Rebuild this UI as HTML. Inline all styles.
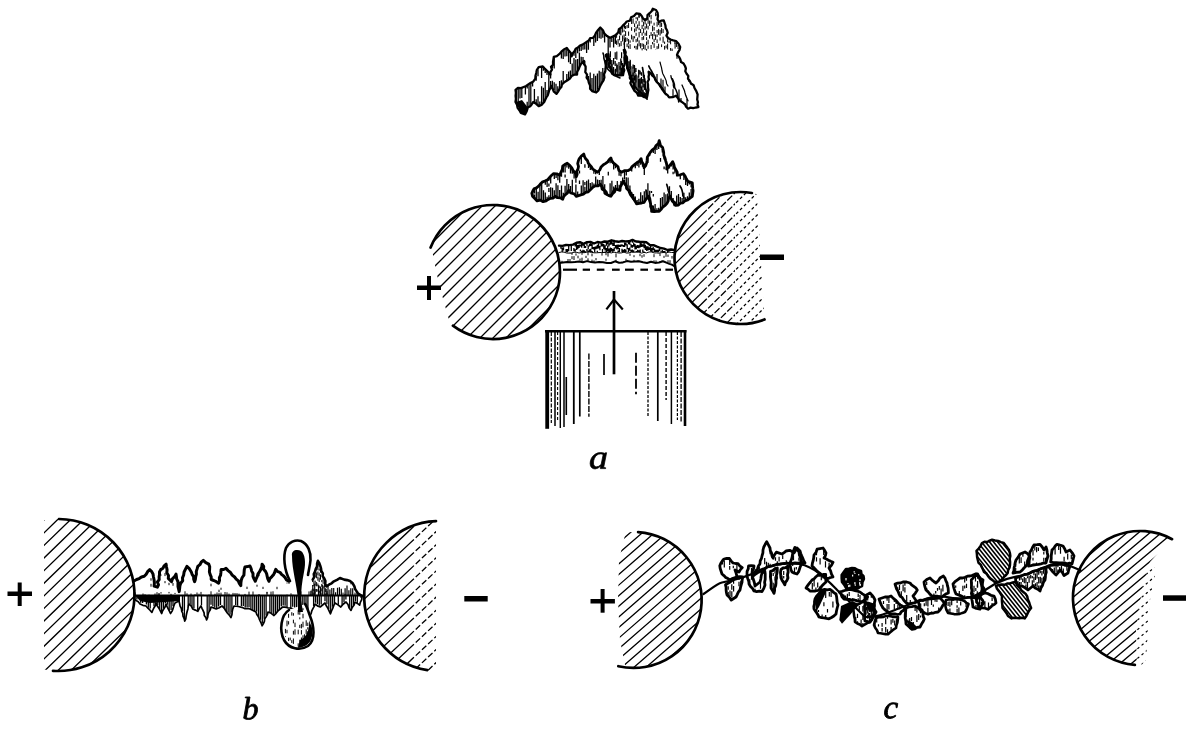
<!DOCTYPE html>
<html><head><meta charset="utf-8"><title>Figure</title>
<style>html,body{margin:0;padding:0;background:#fff;width:1194px;height:731px;overflow:hidden;font-family:"Liberation Serif",serif;}svg{display:block}</style>
</head><body><svg width="1194" height="731" viewBox="0 0 1194 731"><defs><clipPath id="c1"><circle cx="493" cy="272" r="67"/></clipPath><clipPath id="c2"><polygon points="420,195 431,245 437,275 442,295 449,320 470,350 600,350 600,195"/></clipPath><clipPath id="c3"><circle cx="740.5" cy="258" r="66"/></clipPath><clipPath id="c4"><rect x="600" y="180" width="105" height="150"/></clipPath><clipPath id="c5"><circle cx="740.5" cy="258" r="66"/></clipPath><clipPath id="c6"><rect x="705" y="180" width="30" height="150"/></clipPath><clipPath id="c7"><circle cx="740.5" cy="258" r="66"/></clipPath><clipPath id="c8"><polygon points="735,180 756,180 765,330 735,330"/></clipPath><clipPath id="c9"><polygon points="515.5,89.8 523.7,87 530.5,82.9 535.3,78.8 538.7,67.2 542.8,66.5 550.4,74.7 553.8,56.9 559.2,54.2 566.8,48 571.6,56.3 575.7,48.7 582.5,44.6 586.6,41.9 594.8,35.7 600.3,27.5 604.4,33.7 610,37.8 614.4,35.9 624.7,23.9 634,16 636.2,13.4 640,14 645,20 652.8,8.7 656,10 659,22 663.8,20.5 668,38 676,41 680.2,47 677,55 685,66 688,78.7 694.5,88 697.6,94.5 698.4,107 688,108.7 682.8,102.6 676,95.7 669.1,97.4 658.8,83.8 648.6,71.8 646.9,97.4 638.3,95.7 631.5,85.5 624.7,49.6 623,75.2 614.4,75.2 609.3,66.7 608.5,54.2 605.8,65.1 604.4,77.5 596.2,92.5 592.1,91.1 586.6,77.5 583.9,61 581.1,63.8 577,74.7 571.6,76.1 567.5,80.2 562,84.3 556.5,93.9 551,85.7 544.2,102 538.7,106.2 533.3,102 527.8,107.6 525,114.4 520.9,113 515.5,102"/></clipPath><clipPath id="c10"><polygon points="515.5,89.8 523.7,87 530.5,82.9 535.3,78.8 538.7,67.2 542.8,66.5 550.4,74.7 553.8,56.9 559.2,54.2 566.8,48 571.6,56.3 575.7,48.7 582.5,44.6 586.6,41.9 594.8,35.7 600.3,27.5 604.4,33.7 610,37.8 614.4,35.9 624.7,23.9 634,16 636.2,13.4 640,14 645,20 652.8,8.7 656,10 659,22 663.8,20.5 668,38 676,41 680.2,47 677,55 685,66 688,78.7 694.5,88 697.6,94.5 698.4,107 688,108.7 682.8,102.6 676,95.7 669.1,97.4 658.8,83.8 648.6,71.8 646.9,97.4 638.3,95.7 631.5,85.5 624.7,49.6 623,75.2 614.4,75.2 609.3,66.7 608.5,54.2 605.8,65.1 604.4,77.5 596.2,92.5 592.1,91.1 586.6,77.5 583.9,61 581.1,63.8 577,74.7 571.6,76.1 567.5,80.2 562,84.3 556.5,93.9 551,85.7 544.2,102 538.7,106.2 533.3,102 527.8,107.6 525,114.4 520.9,113 515.5,102"/></clipPath><clipPath id="c11"><polygon points="624,50 632,62 645,75 648,99 638,96 630,84"/></clipPath><clipPath id="c12"><polygon points="600,52 612,50 623,52 622,75 614,76 605,66"/></clipPath><clipPath id="c13"><polygon points="614.4,35.9 624.7,23.9 634,16 636.2,13.4 640,14 645,20 652.8,8.7 656,10 659,22 663.8,20.5 668,38 676,41 680.2,47 677,52 660,49 645,51 630,49 615,46"/></clipPath><clipPath id="c14"><polygon points="531.8,193.3 534,188.8 540.1,184.3 547.6,179.8 553.6,173.7 559.7,175.2 562.7,166.2 567.2,163.2 573.2,170.7 576.3,176.7 579.3,158.6 583.8,154.1 588.3,163.2 592.8,169.2 597.4,172.2 603.4,164.7 610.9,157.9 615.5,164.7 621.5,172.2 630.5,169.2 641.1,158.6 644.1,167.7 650.1,152.6 654.7,148.1 659.2,140.6 663.7,152.6 666.7,169.2 672.7,161.7 677.3,175.2 683.3,173.7 687.8,181.3 692.3,182.8 692.3,196.3 684.8,200.9 675.8,205.4 669.7,196.3 665.2,205.4 659.2,211.4 651.6,211.4 648.6,196.3 644.1,202.4 636.6,203.9 630.5,193.3 623,181.3 620,190.3 615.5,188.8 610.9,196.3 604.9,193.3 600.4,184.3 592.8,187.3 588.3,191.8 580.8,194.8 576.3,196.3 568.7,190.3 562.7,199.3 555.2,196.3 546.1,200.9 537.1,200.9 532.5,196.3"/></clipPath><clipPath id="c15"><polygon points="559,245.6 562.5,245.9 566,245 569.5,245.1 573,244.6 576.5,242.8 580,242.2 583.5,243.8 587,242.1 590.5,241.9 594,243.5 597.5,242 601,242.6 604.5,241.5 608,241.7 611.5,240.3 615,241.2 618.5,241.8 622,241 625.5,241.5 629,241.3 632.5,239.9 636,241.5 639.5,241.8 643,242 646.5,242.3 650,245.2 653.5,245.2 657,246.7 660.5,248 664,248.6 667.5,250 671,249.5 674,250 674,252.5 559,252.5"/></clipPath><clipPath id="c16"><polygon points="559,252 674,252 674,266 667,262.9 663,261.3 659,262.5 655,262.9 651,261.7 647,263 643,262.2 639,261.2 635,261.5 631,261.8 627,261.1 623,262.4 619,262.7 615,261.3 611,263 607,263.1 603,262.2 599,262 595,262.4 591,262.1 587,261.1 583,262.2 579,261.4 575,262 571,262.2 567,262.1 563,262.5 559,263"/></clipPath><clipPath id="c17"><circle cx="59" cy="595" r="76"/></clipPath><clipPath id="c18"><rect x="44" y="500" width="120" height="200"/></clipPath><clipPath id="c19"><circle cx="439" cy="596" r="75"/></clipPath><clipPath id="c20"><rect x="340" y="500" width="70" height="200"/></clipPath><clipPath id="c21"><circle cx="439" cy="596" r="75"/></clipPath><clipPath id="c22"><rect x="410" y="500" width="26" height="200"/></clipPath><clipPath id="c23"><polygon points="134,596 134,581 136.6,579.5 144.2,576.3 149.7,569.7 153,574 154.1,586.1 157.4,587.2 159.5,571.9 166.1,564.2 168.3,578.4 171.6,581.7 176,574.1 179.2,591.6 183.6,575.2 186.9,566.4 191.3,571.9 194.6,581.7 197.8,566.4 203.3,560.4 208.8,564.2 211.2,579.5 218.6,583.2 221.1,569.6 226,568.4 234.6,577 240.8,585.6 245,567 250,566 255.3,581.3 262.1,564.2 269,581.3 275.8,569.3 288.8,581.3 300,585 312.7,579.6 317.9,560.8 326.4,586.4 333.9,581.3 340,578 344.2,579.6 350,581 354.4,586.4 357.9,593.3 362,596 362,596"/></clipPath><clipPath id="c24"><polygon points="312,581 317.9,560.8 326.4,586.4 330,595 312,595"/></clipPath><clipPath id="c25"><polygon points="310,595 312.7,579.6 326.4,586.4 333.9,581.3 340,578 344.2,579.6 350,581 354.4,586.4 357.9,593.3 362,596"/></clipPath><clipPath id="c26"><polygon points="286,612 306,606 312,625 312,640 300,648 286,640 283,625"/></clipPath><clipPath id="c27"><circle cx="634" cy="600" r="68"/></clipPath><clipPath id="c28"><polygon points="628,520 625,535 619,560 618,600 620,640 626,670 720,670 720,520"/></clipPath><clipPath id="c29"><circle cx="1140" cy="598" r="67"/></clipPath><clipPath id="c30"><polygon points="1000,500 1180,520 1170,540 1150,562 1143,585 1139,608 1136,631 1137,670 1000,700"/></clipPath><clipPath id="c31"><circle cx="1140" cy="598" r="67"/></clipPath><clipPath id="c32"><polygon points="1150,562 1143,585 1139,608 1136,631 1137,670 1146,660 1150,600 1156,570"/></clipPath><clipPath id="c33"><polygon points="719.8,565.7 724,559 729.4,558.5 733,563 738,563.7 742.3,567.6 739,572 735,570 737,577 730,580 722,574"/></clipPath><clipPath id="c34"><polygon points="725.5,584.8 737,577 742.8,577 740,590 736,597 731.3,600.1 727,595"/></clipPath><clipPath id="c35"><polygon points="748.5,566 754,566 752,575 755,586 760,582 762,573 764.8,571 765,585 762,591.5 754,591 749,584 747,574"/></clipPath><clipPath id="c36"><polygon points="753,576 760,563.7 763,550 766.7,541.7 770,548 773,558 776.3,552.2 782,554 786,551 789.7,550.3 794,553 797,548 800,551 805,563 795,562.8 780,564 767,567"/></clipPath><clipPath id="c37"><polygon points="770.5,571.4 777.3,568 776,583 774,593.4 771,588"/></clipPath><clipPath id="c38"><polygon points="781,569.5 787.8,566 788,578 784.8,584.8 781,578"/></clipPath><clipPath id="c39"><polygon points="790,564.6 793,552 794.9,547.4 799,552 802,564 797,574 792,572"/></clipPath><clipPath id="c40"><polygon points="812,566 814,555 817.1,549.2 823,548 826,553 824,558 833.1,562.2 829,568 833,577 827,579 818,572"/></clipPath><clipPath id="c41"><polygon points="806,588 812,580 818,575 825.7,574.5 826,582 818,590.5 810,591"/></clipPath><clipPath id="c42"><polygon points="822,590 830,589.3 836,594 838,605 836,614 829,618.8 819,617 814,609 815,599"/></clipPath><clipPath id="c43"><polygon points="839.3,592 850,589.3 860,592 867.6,597 862,601.6 852,600 844,599"/></clipPath><clipPath id="c44"><polygon points="853,608 862,602 871.3,604 876.2,612 870,622 862,626.2 855,622"/></clipPath><clipPath id="c45"><polygon points="865,596 870,593 875,600 874,612 870,622 865,621"/></clipPath><clipPath id="c46"><polygon points="879,599 885,597 891,596 898,603 905,608 900,614 890,614 883,608"/></clipPath><clipPath id="c47"><polygon points="876,618 886,616 898,617 896,628 888,634.3 878,633 874,625"/></clipPath><clipPath id="c48"><polygon points="895,584 903,582 910,583 917.3,590 913,596 917,602 908,604 900,596"/></clipPath><clipPath id="c49"><polygon points="906,608 915,606 922,610 924.3,619 920,627 912,629.3 906,624 905.2,615"/></clipPath><clipPath id="c50"><polygon points="918,601 928,599 940,598 944.4,603 938,612 928,614.2 920,610"/></clipPath><clipPath id="c51"><polygon points="924,582 930,578 936,583 940,578 943.4,576 947,583 948.4,593 942,597 932,596 926,590"/></clipPath><clipPath id="c52"><polygon points="946,600 956,599 962,600 968.5,604 965,612 957,614.2 948,613 945.4,606"/></clipPath><clipPath id="c53"><polygon points="953,584 960,578 970,576 977.6,574 981,583 985,591 978,597 965,598 956,594"/></clipPath><clipPath id="c54"><polygon points="971.5,598 980,596 983.6,603 980,609.2 973,607"/></clipPath><clipPath id="c55"><polygon points="971.3,580 976,574 983,580 982,592 977,599 972,596"/></clipPath><clipPath id="c56"><polygon points="975,597 985,593 994,596 996,603 988,609.3 979,607"/></clipPath><clipPath id="c57"><polygon points="994.7,582 984,572 977.8,560 976.5,550.8 982,543 992.1,539.8 1003.8,543 1009,550 1010.3,556 1010,565 1007.7,573 998.6,582"/></clipPath><clipPath id="c58"><polygon points="996,586 1002,596 1002.5,608 1008,616 1011.6,618.4 1024.6,618.4 1031.1,608 1027.2,596.3 1020,588 1015.5,582"/></clipPath><clipPath id="c59"><polygon points="1013,573 1016,560 1020,554 1025,552 1029.8,556 1026,566 1020,572"/></clipPath><clipPath id="c60"><polygon points="1028.5,566 1030,552 1034,545 1040,544.3 1044,550 1046,547 1048,556 1046,563"/></clipPath><clipPath id="c61"><polygon points="1050.6,562 1052,550 1057,544.3 1063,546 1066,552 1070,550 1074,556 1072,563.8 1062,563"/></clipPath><clipPath id="c62"><polygon points="1015.5,578 1030,573 1046.7,567 1045,580 1040,591 1033,586 1028,590 1022,586 1017,585"/></clipPath><clipPath id="c63"><polygon points="1048,566 1060,563.8 1070,566 1068,573 1064,575.5 1060,570 1056,575 1052,571"/></clipPath></defs><rect width="1194" height="731" fill="#fff"/><g clip-path="url(#c2)"><g clip-path="url(#c1)"><path d="M420 177L565 32M420 190L565 45M420 203L565 58M420 216L565 71M420 229L565 84M420 242L565 97M420 255L565 110M420 268L565 123M420 281L565 136M420 294L565 149M420 307L565 162M420 320L565 175M420 333L565 188M420 346L565 201M420 359L565 214M420 372L565 227M420 385L565 240M420 398L565 253M420 411L565 266M420 424L565 279M420 437L565 292M420 450L565 305M420 463L565 318M420 476L565 331M420 489L565 344M420 502L565 357" stroke="#000" stroke-width="1.3" fill="none"/></g></g><path d="M430.6 247.6A67 67 0 1 1 452.9 325.7" stroke="#000" stroke-width="2.7" fill="none" stroke-linecap="round"/><rect x="417" y="285.5" width="24" height="4.5" fill="#000"/><rect x="427" y="276" width="4" height="24" fill="#000"/><g clip-path="url(#c4)"><g clip-path="url(#c3)"><path d="M670 169L770 69M670 180.1L770 80.1M670 191.2L770 91.2M670 202.3L770 102.3M670 213.4L770 113.4M670 224.5L770 124.5M670 235.6L770 135.6M670 246.7L770 146.7M670 257.8L770 157.8M670 268.9L770 168.9M670 280L770 180M670 291.1L770 191.1M670 302.2L770 202.2M670 313.3L770 213.3M670 324.4L770 224.4M670 335.5L770 235.5M670 346.6L770 246.6M670 357.7L770 257.7M670 368.8L770 268.8M670 379.9L770 279.9M670 391L770 291M670 402.1L770 302.1M670 413.2L770 313.2M670 424.3L770 324.3M670 435.4L770 335.4" stroke="#000" stroke-width="1.25" fill="none"/></g></g><g clip-path="url(#c6)"><g clip-path="url(#c5)"><path d="M670 169L770 69M670 180.1L770 80.1M670 191.2L770 91.2M670 202.3L770 102.3M670 213.4L770 113.4M670 224.5L770 124.5M670 235.6L770 135.6M670 246.7L770 146.7M670 257.8L770 157.8M670 268.9L770 168.9M670 280L770 180M670 291.1L770 191.1M670 302.2L770 202.2M670 313.3L770 213.3M670 324.4L770 224.4M670 335.5L770 235.5M670 346.6L770 246.6M670 357.7L770 257.7M670 368.8L770 268.8M670 379.9L770 279.9M670 391L770 291M670 402.1L770 302.1M670 413.2L770 313.2M670 424.3L770 324.3M670 435.4L770 335.4" stroke="#000" stroke-width="1.25" fill="none" stroke-dasharray="7 2"/></g></g><g clip-path="url(#c8)"><g clip-path="url(#c7)"><path d="M670 169L770 69M670 180.1L770 80.1M670 191.2L770 91.2M670 202.3L770 102.3M670 213.4L770 113.4M670 224.5L770 124.5M670 235.6L770 135.6M670 246.7L770 146.7M670 257.8L770 157.8M670 268.9L770 168.9M670 280L770 180M670 291.1L770 191.1M670 302.2L770 202.2M670 313.3L770 213.3M670 324.4L770 224.4M670 335.5L770 235.5M670 346.6L770 246.6M670 357.7L770 257.7M670 368.8L770 268.8M670 379.9L770 279.9M670 391L770 291M670 402.1L770 302.1M670 413.2L770 313.2M670 424.3L770 324.3M670 435.4L770 335.4" stroke="#000" stroke-width="1.25" fill="none" stroke-dasharray="3 2.5"/></g></g><path d="M751.9 193A66 66 0 1 0 764.5 319.5" stroke="#000" stroke-width="2.7" fill="none" stroke-linecap="round"/><rect x="760" y="254.5" width="24" height="5.5" fill="#000"/><path clip-path="url(#c9)" d="M516.4 89.5l0 8M516.4 103.8l-0 -10.5M518.2 88.9l0 8.3M518.2 107.5l-0 -11.2M520 88.3l0 10.1M520 111.2l-0 -8.2M521.8 87.6l0 10.3M521.8 113.3l-0 -4.6M525.4 86l0 8.5M525.4 113.4l-0 -4.2M527.2 84.9l0 3.5M527.2 109.1l-0 -7.4M529 83.8l0 7.2M529 106.4l-0 -15.8M530.8 82.6l0 8.8M530.8 104.5l-0 -13.3M532.6 81.1l0 5.5M534.4 102.9l-0 -13.9M536.2 75.7l0 5.1M536.2 104.3l-0 -5M538 69.6l0 6.6M538 105.7l-0 -9.4M539.8 105.4l-0 -4M541.6 66.7l0 11.2M541.6 104l-0 -17.7M543.4 67.1l0 3.7M543.4 102.6l-0 -14.9M545.2 69.1l0 3.8M545.2 99.6l-0 -17.5M547 71l0 4.1M547 95.3l-0 -5.4M548.8 73l0 10.2M548.8 91l-0 -11.8M550.6 73.7l0 4.7M550.6 86.7l-0 -5.8M552.4 64.2l0 4M552.4 87.8l-0 -7M554.2 56.7l0 11.7M554.2 90.5l-0 -8.3M556 93.2l-0 -9.5M557.8 91.6l-0 -5.4M559.6 88.5l-0 -7.6M561.4 52.4l0 6M561.4 85.3l-0 -5M563.2 50.9l0 8.2M563.2 83.4l-0 -12.4M565 49.5l0 7.1M566.8 48l0 8.2M566.8 80.7l-0 -6.6M568.6 51.1l0 11.2M568.6 79.1l-0 -7.5M570.4 54.2l0 9.7M570.4 77.3l-0 -6.8M572.2 75.9l-0 -12.4M574 51.9l0 3.9M574 75.5l-0 -17.5M575.8 48.6l0 9.3M575.8 75l-0 -15.5M577.6 47.6l0 5.6M577.6 73.1l-0 -14.1M579.4 46.5l0 5.1M579.4 68.3l-0 -15.9M581.2 45.4l0 5.5M581.2 63.7l-0 -6.9M583 44.3l0 5.4M583 61.9l-0 -4.8M584.8 43.1l0 6.3M584.8 66.5l-0 -5.8M586.6 41.9l0 11M588.4 40.5l0 9.2M588.4 82l-0 -6M590.2 39.2l0 3.2M590.2 86.4l-0 -13.8M592 90.9l-0 -12.9M593.8 36.5l0 9.6M593.8 91.7l-0 -18M595.6 34.5l0 7.9M595.6 92.3l-0 -16.6M597.4 31.8l0 9.3M597.4 90.3l-0 -16.8M599.2 29.1l0 9.2M599.2 87l-0 -16.2M601 28.6l0 10.1M601 83.7l-0 -12M602.8 31.3l0 6.4M602.8 80.4l-0 -12.5M604.6 33.8l0 8.8M606.4 62.7l-0 -9.4M608.2 36.5l0 8.2M608.2 55.4l-0 -15.7M610 37.8l0 9.8M610 67.9l-0 -12.4M611.8 37l0 5.1M611.8 70.9l-0 -11M613.6 36.2l0 11.3M613.6 73.9l-0 -4.2M615.4 34.7l0 9.1M615.4 75.2l-0 -6.4M617.2 75.2l-0 -10.2M619 75.2l-0 -13.3M620.8 28.4l0 6.9M620.8 75.2l-0 -16.8M622.6 75.2l-0 -12.2M624.4 24.2l0 4.2M624.4 54.1l-0 -15.7" stroke="#000" stroke-width="1.3" fill="none"/><path clip-path="url(#c10)" d="M629 72.3l-0 -3.4M631 82.9l-0 -3.7M635 90.8l-0 -8.7M637 93.8l-0 -2.6M639 13.8l0 3.6M639 95.8l-0 -7.7M641 96.2l-0 -8.3M643 17.6l0 1.4M643 96.6l-0 -2.2M645 97l-0 -3.1M647 17.1l0 2.9M647 95.9l-0 -7M653 8.8l0 2.4M653 77l-0 -2.1M657 14l0 1.8M657 81.7l-0 -7.6M661 86.7l-0 -8.3M663 89.3l-0 -9.5M665 92l-0 -5.6M673 96.4l-0 -7.2M675 40.6l0 3.2M677 55l0 3.7M679 98.7l-0 -9.3M681 100.8l-0 -2.7M685 105.2l-0 -2.2M687 107.5l-0 -8.4M689 80.1l0 2M691 83l0 1.4" stroke="#000" stroke-width="1.2" fill="none"/><path clip-path="url(#c11)" d="M624.7 51.4l0 2.6M626.1 56.1l0 5.8M627.5 57.5l0 5.2M627.5 66.2l0 3.6M628.9 61.2l0 6.7M628.9 69.5l0 6.8M630.3 59.6l0 9.8M630.3 71.5l0 8.6M630.3 82.6l0 1.8M631.7 74.7l0 6.3M633.1 64.4l0 4.3M633.1 72.5l0 3.9M633.1 77.5l0 4.4M633.1 84.9l0 3.8M634.5 64.9l0 8.1M634.5 75.6l0 4.8M634.5 82.9l0 6.1M635.9 68l0 4.1M635.9 75l0 7.5M638.7 69.7l0 8.1M638.7 79l0 8.8M638.7 91.2l0 3.9M640.1 70.2l0 4.4M640.1 78.3l0 9.8M640.1 90.6l0 6M641.5 72.3l0 3.5M641.5 76.9l0 6.9M641.5 86.4l0 4M642.9 79.1l0 8.4M642.9 89.9l0 6.6M644.3 74.4l0 7.9M644.3 83.8l0 6.2M644.3 92.2l0 4.4M645.7 80.7l0 9.3M645.7 93l0 5.3" stroke="#000" stroke-width="1.3" fill="none"/><path clip-path="url(#c12)" d="M605.6 54l0 3.5M605.6 59.9l0 3.1M605.6 65.8l0 0.8M607.2 53.5l0 5.4M607.2 61.5l0 6.7M608.8 65l0 3.2M610.4 51.3l0 5.8M610.4 58.7l0 5.6M610.4 66.1l0 5.9M612 63.8l0 8.7M613.6 58.1l0 6.3M613.6 66.9l0 7.3M615.2 52.3l0 6.7M615.2 61l0 5M615.2 75.6l0 0.2M616.8 51.5l0 8.3M616.8 63.5l0 8.2M620 66l0 3.8M620 72.2l0 3.1M621.6 52.2l0 6.1M621.6 60.7l0 4.8M621.6 67.8l0 7.2" stroke="#000" stroke-width="1.2" fill="none"/><path clip-path="url(#c13)" d="M615.1 38.8l0 4.9M616.6 34.7l0 3.1M616.6 40.5l0 4.4M618.1 39l0 5.5M618.1 45.7l0 0.9M619.6 30.2l0 4.2M619.6 35.6l0 4.7M619.6 43.2l0 3.5M621.1 41l0 5.1M622.6 27.3l0 5.2M622.6 35.5l0 6M624.1 29.6l0 2.3M624.1 34.4l0 4.7M624.1 42.5l0 2.3M624.1 47.8l0 0M625.6 25.9l0 3.1M625.6 31.1l0 4.9M625.6 37.3l0 4.8M627.1 25l0 3.2M627.1 37.9l0 3.4M627.1 43.5l0 3.6M628.6 22.8l0 5.2M628.6 31.5l0 4.3M628.6 39l0 5.5M628.6 45.6l0 3.1M630.1 40.4l0 2.3M630.1 44.2l0 4.9M631.6 18.9l0 5.1M631.6 27.2l0 3.6M631.6 34.7l0 4.7M633.1 18.4l0 5.3M633.1 36.1l0 5.8M634.6 23.5l0 3.5M634.6 28.6l0 3.7M634.6 36.2l0 2.2M634.6 45.9l0 2.2M636.1 17.1l0 2.1M636.1 20.8l0 2.9M636.1 26.8l0 4.4M636.1 32.8l0 3.1M636.1 39.1l0 3.2M636.1 45.8l0 3.9M637.6 17.3l0 3.4M637.6 24.5l0 3.9M637.6 37.5l0 4.1M637.6 43.5l0 6M639.1 13.9l0 3.9M639.1 21.2l0 4.9M639.1 27.5l0 2.6M639.1 31.9l0 5.5M639.1 40.3l0 6M640.6 29.1l0 3.9M640.6 43.1l0 5.2M642.1 16.9l0 5.3M642.1 24.9l0 4.1M642.1 32.5l0 3.2M642.1 37l0 3.2M642.1 43.3l0 3.4M642.1 48.1l0 2.5M643.6 21.7l0 4.6M643.6 28.4l0 4.8M643.6 36l0 3.8M643.6 43.8l0 5.2M645.1 20.9l0 3.5M645.1 26.3l0 3.3M645.1 32.7l0 3M645.1 44.9l0 4.9M646.6 18l0 2.6M646.6 23.6l0 4.8M646.6 30.6l0 5.3M646.6 37.2l0 2.9M646.6 41.5l0 3.6M646.6 48.9l0 1.9M648.1 18.5l0 5.3M648.1 25.8l0 3.6M648.1 39.8l0 4.6M648.1 45.5l0 3.3M649.6 13.7l0 3.5M649.6 20.6l0 5.3M649.6 35.1l0 3.4M651.1 14.9l0 4.5M651.1 20.6l0 3M651.1 32.1l0 3.9M651.1 45l0 4.2M652.6 25.7l0 5.6M652.6 34l0 5.3M652.6 42l0 2.3M654.1 22.7l0 2.8M654.1 27l0 3.5M654.1 32l0 4.1M654.1 38.8l0 3.3M654.1 43.2l0 4.7M655.6 12.3l0 3.9M655.6 34.5l0 5.4M655.6 49l0 0.5M657.1 21.8l0 4.9M657.1 30l0 3.2M657.1 34.4l0 2.5M657.1 39.4l0 3.6M657.1 46.1l0 3.3M658.6 22.2l0 2.9M658.6 28.9l0 5.9M658.6 43.7l0 5M660.1 22l0 5.2M660.1 29.8l0 5.8M660.1 37.4l0 3.2M661.6 22.6l0 4.3M661.6 28l0 5.6M661.6 44.3l0 2.8M663.1 29.1l0 3.9M663.1 36.7l0 6M664.6 41.6l0 2.3M664.6 45.9l0 3.9M666.1 45.4l0 2.9M667.6 39.2l0 3.1M667.6 43.6l0 5.9M669.1 40.6l0 2.2M670.6 40.1l0 4.2M670.6 48l0 2.9M672.1 48.6l0 2.5M675.1 42.8l0 5.8M676.6 42.6l0 4.4M678.1 45l0 4" stroke="#000" stroke-width="1.0" fill="none"/><polygon points="516,102 520.9,113 525,114.4 527.8,107.6 522,100" fill="#000"/><polygon points="515.5,89.8 517.9,88 521,88.1 523.7,87 526.2,86 528.3,84.4 530.5,82.9 533.4,81.4 535.3,78.8 535.5,75.7 536.3,72.8 536.9,69.8 538.7,67.2 542.8,66.5 544.7,68.5 546.7,70.5 548.6,72.6 550.4,74.7 550.4,72.1 552,69.7 551,66.9 553.1,64.7 553,62 553.4,59.5 553.8,56.9 556.8,56.1 559.2,54.2 561.4,51.7 563.8,49.5 566.8,48 568.7,50.6 570.8,53.1 571.6,56.3 572.6,53.6 574.5,51.3 575.7,48.7 578,47.4 580,45.6 582.5,44.6 586.6,41.9 588.8,40.5 590.2,38.1 593.1,37.8 594.8,35.7 596.1,32.6 598.1,30 600.3,27.5 602.9,30.2 604.4,33.7 607,36.1 610,37.8 614.4,35.9 616.6,34.3 618.3,32.3 618.9,29.3 621.1,27.8 622.8,25.7 624.7,23.9 626.7,21.5 630,20.7 631.1,17.3 634,16 636.2,13.4 640,14 641.7,16 642.9,18.3 645,20 647.4,18.3 647.5,15.1 649.6,13.2 651.6,11.2 652.8,8.7 656,10 657.6,12.8 658,15.9 657.5,19.2 659,22 661.2,20.6 663.8,20.5 664.6,23 665.4,25.4 665.7,28 667,30.3 667.7,32.8 666.4,35.7 668,38 670.5,39.5 673.2,40.4 676,41 678.5,43.7 680.2,47 679.6,49.8 678,52.3 677,55 679,56.9 680.3,59.4 681.1,62.1 683.6,63.6 685,66 685.9,68.5 685.3,71.3 686.6,73.7 688.3,75.9 688,78.7 689.8,80.9 691,83.5 693.6,85.2 694.5,88 696.3,91.1 697.6,94.5 697.4,97 697.2,99.5 697.9,102 697.5,104.5 698.4,107 695.8,107.5 693.2,108.1 690.5,107.6 688,108.7 686.1,106.8 685,104.3 682.8,102.6 680.1,100.7 678,98.2 676,95.7 672.7,97.2 669.1,97.4 667.5,95.1 665.1,93.3 663.5,91 661.8,88.7 660.5,86.1 658.8,83.8 656.8,82 655.3,79.9 654.5,77.2 652.3,75.6 650.9,73.3 648.6,71.8 649,74.4 648.5,76.9 648.9,79.5 647.5,82 648,84.6 648,87.2 648.4,89.8 647.9,92.3 647.5,94.9 646.9,97.4 644,97 641.3,95.4 638.3,95.7 637,92.9 634.5,90.9 633,88.2 631.5,85.5 630.3,83.1 631.4,80.2 629.8,77.9 630.1,75.1 629.5,72.6 629.4,70 627.2,67.7 627.3,65.1 626.9,62.5 625.8,60 626.9,57.2 625.3,54.8 625.7,52.1 624.7,49.6 624.5,52.2 625.2,54.8 624.4,57.3 624.5,59.9 624.8,62.5 624.4,65 623.3,67.5 624.3,70.1 623.5,72.7 623,75.2 620.1,75.4 617.3,75.1 614.4,75.2 612.1,72.7 611.4,69.3 609.3,66.7 608.7,64.2 609.4,61.7 609.2,59.2 608,56.7 608.5,54.2 608.4,57.1 607.6,59.8 606.1,62.3 605.8,65.1 605.6,68.2 605.3,71.3 604,74.3 604.4,77.5 603.5,80.3 602,82.7 600.6,85.1 599.4,87.8 598.4,90.4 596.2,92.5 592.1,91.1 590.1,88.7 590.1,85.6 588.9,82.9 588.3,80 586.6,77.5 587.1,74.6 585.3,72.1 585.6,69.2 585.6,66.4 583.8,63.8 583.9,61 581.1,63.8 579.7,66.4 578.7,69.1 577.2,71.7 577,74.7 574.1,74.7 571.6,76.1 569.9,78.5 567.5,80.2 564.6,82 562,84.3 561.3,87.1 559.4,89.2 558.1,91.6 556.5,93.9 553.9,91.7 552.6,88.6 551,85.7 550.3,88.2 549.1,90.4 548.5,92.9 547.7,95.3 546.3,97.4 545.2,99.7 544.2,102 541.9,104.6 538.7,106.2 536.2,103.8 533.3,102 531.8,104.2 530.2,106.3 527.8,107.6 526.7,111.1 525,114.4 520.9,113 519.4,110.3 517.6,107.8 517,104.7 515.5,102 515.9,99 515.6,95.9 515.9,92.8" stroke="#000" stroke-width="2.3" fill="none" stroke-linejoin="round" stroke-linecap="round"/><polyline points="623.6,50 624.6,52.5 624.7,55.1 625.2,57.7 626.1,60.2 626.1,62.8 627,65.3 627,68 628,70.6 628.9,73.2 630,75.7 631.2,78.2 632.3,80.7 633.5,83.2 634,86 636,87.7 637.4,90 639.5,91.6 641.6,93.2 643.1,95.4 645.4,96.9 647,99" stroke="#000" stroke-width="2.0" fill="none" stroke-linejoin="round" stroke-linecap="round"/><polygon points="627,68 634,86 646,98 640,80 632,66" fill="#000" opacity="0.6"/><polyline points="642.5,67.7 643,70.6 643.4,73.4 643.5,76.4 644.7,79.1 645,82 645.3,84.5 645.3,87.1 645.9,89.6 646.4,92 647,94.5" stroke="#000" stroke-width="1.7" fill="none" stroke-linejoin="round" stroke-linecap="round"/><polyline points="648.8,66 649.9,68.4 651.3,70.6 652.5,73 653.8,75.2 654.4,77.8 656,80 657.1,82.3 659,84.1 659.9,86.5 662.2,88 663.5,90.1 664.6,92.4 666,94.5" stroke="#000" stroke-width="1.7" fill="none" stroke-linejoin="round" stroke-linecap="round"/><polyline points="672.4,78.7 673.5,81.5 674.4,84.3 674.6,87.3 676,90 677.1,92.9 677.7,95.9 678.3,98.9 678.7,102" stroke="#000" stroke-width="1.5" fill="none" stroke-linejoin="round" stroke-linecap="round"/><polyline points="670.9,75.6 671.3,78.1 672.4,80.5 673.3,82.9 673.3,85.5 674,88" stroke="#000" stroke-width="1.3" fill="none" stroke-linejoin="round" stroke-linecap="round"/><polyline points="682,85 683.1,87.6 684.3,90.2 685,92.9 685.8,95.6 686.9,98.2 688,100.8" stroke="#000" stroke-width="1.3" fill="none" stroke-linejoin="round" stroke-linecap="round"/><polyline points="660,62 660.7,64.8 661.5,67.6 662,70.5 662.7,73.4 664,76 665.2,78.4 666.2,80.9 666.6,83.7 668,86" stroke="#000" stroke-width="1.2" fill="none" stroke-linejoin="round" stroke-linecap="round"/><polyline points="603,53 603.8,55.5 603.9,58.3 604.6,60.9 605.2,63.5 606,66 607.1,68.3 608.7,70.2 610.8,71.8 612,74 614.6,75.5 617.3,76.7 620,78" stroke="#000" stroke-width="1.6" fill="none" stroke-linejoin="round" stroke-linecap="round"/><path clip-path="url(#c14)" d="M532.7 191.5l0 4.2M532.7 196.5l-0 -5M534.5 188.4l0 5.1M534.5 198.3l-0 -3.7M536.3 187.1l0 3.5M536.3 200.1l-0 -11.8M538.1 200.9l-0 -9.2M539.9 184.4l0 5.5M539.9 200.9l-0 -13.7M541.7 183.3l0 3.7M541.7 200.9l-0 -13.9M541.7 183.8l0 2.7M543.5 200.9l-0 -10.6M545.3 181.2l0 3.6M545.3 200.9l-0 -8.3M547.1 180.1l0 6.8M547.1 200.4l-0 -3.6M548.9 178.5l0 2.2M548.9 199.5l-0 -4.3M548.9 183.4l0 3M548.9 188.1l0 3.9M550.7 176.6l0 6.8M550.7 198.6l-0 -11.4M552.5 197.7l-0 -10M554.3 173.9l0 5M554.3 196.8l-0 -6.5M556.1 174.3l0 3.6M556.1 196.7l-0 -13.4M557.9 174.8l0 5.4M557.9 197.4l-0 -12.2M559.7 175.2l0 7.6M559.7 198.1l-0 -8.2M561.5 169.8l0 7M561.5 198.8l-0 -13.3M563.3 165.8l0 6.7M563.3 198.4l-0 -5.7M565.1 164.6l0 7.9M565.1 195.7l-0 -9.9M565.1 174.6l0 2.9M566.9 163.4l0 4.1M566.9 193l-0 -13.9M568.7 165.1l0 3.7M568.7 190.3l-0 -6.2M570.5 167.3l0 6.2M570.5 191.7l-0 -5.7M572.3 169.6l0 4.1M572.3 193.1l-0 -13.4M574.1 172.4l0 6.2M575.9 175.9l0 6.9M575.9 196l-0 -11.5M575.9 176.4l0 2.9M577.7 168.3l0 2.7M577.7 195.8l-0 -4.4M579.5 170.5l0 3.1M579.5 180.4l0 3.7M581.3 156.6l0 7.3M581.3 194.6l-0 -9.2M583.1 154.8l0 2.1M583.1 193.9l-0 -13.6M584.9 193.2l-0 -6.5M584.9 164.3l0 3.5M584.9 182.1l0 3.2M586.7 192.4l-0 -11.6M588.5 163.5l0 4.5M588.5 191.6l-0 -12.2M590.3 165.9l0 4.1M590.3 189.8l-0 -6.8M592.1 188l-0 -5.8M593.9 169.9l0 3.8M593.9 186.9l-0 -3.4M595.7 171.1l0 3.2M595.7 186.2l-0 -9.7M597.5 185.4l-0 -5.9M599.3 169.8l0 5.1M599.3 184.7l-0 -4.8M601.1 185.7l-0 -5.9M602.9 189.3l-0 -13.3M604.7 192.9l-0 -8.7M606.5 190.8l0 3.3M608.3 171.8l0 3.6M610.1 158.6l0 4.7M610.1 195.9l-0 -12.7M611.9 159.4l0 3.3M611.9 194.7l-0 -13.9M613.7 162l0 7.5M613.7 191.7l-0 -5.3M615.5 164.7l0 3.6M615.5 188.8l-0 -3.8M615.5 165.4l0 2.7M617.3 189.4l-0 -8.5M619.1 169.2l0 6.6M619.1 190l-0 -3.6M619.1 184.7l0 2.4M620.9 171.4l0 4.8M620.9 187.6l-0 -6.5M622.7 182.2l-0 -4.8M624.5 171.2l0 7.7M624.5 183.7l-0 -4.1M626.3 170.6l0 5M626.3 186.6l-0 -9.3M628.1 189.5l-0 -12.1M629.9 192.3l-0 -6.8M631.7 168l0 3.5M631.7 195.4l-0 -3.3M633.5 198.5l-0 -4.4M635.3 164.4l0 3.9M635.3 201.6l-0 -5.1M637.1 162.6l0 3.4M637.1 203.8l-0 -3.8M638.9 160.8l0 6.6M638.9 203.4l-0 -4.7M640.7 159l0 5.7M640.7 203.1l-0 -10.8M642.5 162.8l0 3.9M642.5 202.7l-0 -7.5M644.3 167.2l0 7.9M644.3 202.1l-0 -10.8M646.1 162.7l0 3.5M646.1 199.7l-0 -9.2M647.9 158.1l0 4.8M647.9 197.2l-0 -13.9M649.7 153.6l0 2.5M649.7 201.8l-0 -11.1M651.5 210.9l-0 -4.9M651.5 190.9l0 2.2M653.3 149.5l0 3.5M653.3 211.4l-0 -5.9M653.3 193.9l0 2.6M655.1 147.4l0 6.5M655.1 211.4l-0 -7.4M656.9 144.4l0 5.5M656.9 211.4l-0 -3.2M658.7 141.4l0 7.5M658.7 211.4l-0 -3.7M660.5 210.1l-0 -12.1M660.5 144.7l0 2.3M660.5 158l0 3.8M662.3 148.9l0 3.7M662.3 208.3l-0 -11.3M664.1 154.8l0 4.7M664.1 206.5l-0 -13.9M664.1 166.5l0 2.7M665.9 204l-0 -9.8M667.7 168l0 5.6M667.7 200.3l-0 -6.8M669.5 165.7l0 2.8M669.5 196.7l-0 -10.5M671.3 163.5l0 2.9M671.3 198.7l-0 -7.7M673.1 162.9l0 6.7M673.1 201.4l-0 -3.4M673.1 171.8l0 2.4M673.1 200.4l0 1M674.9 168.2l0 5.3M676.7 173.4l0 2.8M676.7 205l-0 -9.6M678.5 204.1l-0 -10.1M680.3 174.5l0 4.8M680.3 203.2l-0 -6.2M682.1 202.3l-0 -4.4M683.9 174.7l0 5.2M683.9 201.4l-0 -8.7M685.7 177.8l0 7.1M685.7 200.3l-0 -3M687.5 180.8l0 5.2M687.5 199.2l-0 -3M689.3 181.8l0 2.7M689.3 198.1l-0 -5.5M691.1 182.4l0 4.8M691.1 197l-0 -8M691.1 191.3l0 2.3M691.1 195.7l0 1.3" stroke="#000" stroke-width="1.3" fill="none"/><polygon points="531.8,193.3 532.8,191 534,188.8 536.5,187.9 538.4,186.3 540.1,184.3 542.2,182.1 544.9,181 547.6,179.8 549.4,177.6 551.4,175.5 553.6,173.7 556.8,173.8 559.7,175.2 560.9,172.3 562.3,169.4 562.7,166.2 564.8,164.5 567.2,163.2 569.7,165.3 571.8,167.8 573.2,170.7 575.5,173.3 576.3,176.7 577.2,174.2 576.7,171.4 578,169 578.5,166.4 577.7,163.6 578.3,161.1 579.3,158.6 581.3,156.1 583.8,154.1 584.5,156.6 585.7,158.8 587.5,160.8 588.3,163.2 589.9,165.1 591.5,167 592.8,169.2 595.1,170.7 597.4,172.2 599.8,170 601.1,166.9 603.4,164.7 605.7,163.4 607.7,161.9 609.1,159.7 610.9,157.9 611.7,160.6 613.3,162.9 615.5,164.7 618,166.8 618.8,170.3 621.5,172.2 624.3,170.7 627.7,170.7 630.5,169.2 632.1,166.6 634.5,164.7 636.8,162.8 639.4,161.2 641.1,158.6 641.8,161.7 643.6,164.5 644.1,167.7 645.8,165.4 646.7,162.9 647.1,160.2 647.3,157.3 648.7,155 650.1,152.6 652.1,150.1 654.7,148.1 656.1,145.5 658.4,143.5 659.2,140.6 659.9,143.1 660.5,145.6 662.6,147.5 663.2,150 663.7,152.6 663.8,155.4 665,158.1 665.7,160.8 666.5,163.5 667,166.3 666.7,169.2 668.6,166.6 670.8,164.3 672.7,161.7 673.8,164.3 674.4,167.1 675.8,169.7 677.2,172.2 677.3,175.2 680.4,174.8 683.3,173.7 685.1,176.1 686.3,178.8 687.8,181.3 692.3,182.8 692.5,185.5 692.7,188.2 693.1,190.9 692.7,193.6 692.3,196.3 690,198.1 687.7,200 684.8,200.9 682.9,202.8 680.3,203.2 678.4,205 675.8,205.4 674.8,202.7 672.5,201 671.1,198.6 669.7,196.3 668.5,198.6 668.2,201.2 667,203.4 665.2,205.4 662.8,207 661.1,209.3 659.2,211.4 656.7,211.4 654.1,211.7 651.6,211.4 651.5,208.8 650.6,206.4 650.6,203.7 650.2,201.2 649.8,198.7 648.6,196.3 646.8,198.1 645.3,200.2 644.1,202.4 641.6,203 639.1,203.3 636.6,203.9 635.2,201.2 633.6,198.6 632.5,195.7 630.5,193.3 629.5,190.6 626.8,188.9 626.4,185.9 624.7,183.6 623,181.3 621.8,184.2 620.3,187.1 620,190.3 615.5,188.8 614.7,191.7 612.5,193.8 610.9,196.3 607.8,195 604.9,193.3 604.5,190.7 602.1,189.1 601.6,186.5 600.4,184.3 598.1,185.9 595.2,185.9 592.8,187.3 590.6,189.6 588.3,191.8 585.6,192.4 583.4,194.1 580.8,194.8 576.3,196.3 574.2,193.8 570.7,193 568.7,190.3 567.6,192.8 565.4,194.6 563.6,196.7 562.7,199.3 560.4,197.8 557.5,197.7 555.2,196.3 553.3,198.1 550.5,198.3 548.2,199.4 546.1,200.9 543.1,201.7 540.1,200.1 537.1,200.9 534.8,198.6 532.5,196.3" stroke="#000" stroke-width="2.8" fill="none" stroke-linejoin="round" stroke-linecap="round"/><polyline points="600.4,184.3 602.3,186 603.4,188.3 605.1,190.2 606.8,192 607.5,194.6 609.4,196.3 611.8,194.1 613.1,191 615.5,188.8" stroke="#000" stroke-width="1.7" fill="none" stroke-linejoin="round" stroke-linecap="round"/><polyline points="623,181.3 624.2,183.6 625.6,185.7 626.3,188.2 628.1,190.2 629,192.6 630,195 631.7,197.2 633.3,199.4 635,201.6 636.6,203.9" stroke="#000" stroke-width="1.7" fill="none" stroke-linejoin="round" stroke-linecap="round"/><polyline points="646,190 646.6,192.5 647,195.2 647.8,197.6 649,200 649.7,202.5 650.9,204.7 652.7,206.7 653.8,209 654.7,211.4" stroke="#000" stroke-width="1.7" fill="none" stroke-linejoin="round" stroke-linecap="round"/><polyline points="666.7,184.3 667.6,187.2 668.2,190.2 669.1,193.1 670,196 671.2,198.3 671.6,200.9 673.4,203 674.3,205.4" stroke="#000" stroke-width="1.7" fill="none" stroke-linejoin="round" stroke-linecap="round"/><polyline points="680,186 681.3,188.2 682.1,190.6 682.7,193.1 682.9,195.7 684,198" stroke="#000" stroke-width="1.7" fill="none" stroke-linejoin="round" stroke-linecap="round"/><path clip-path="url(#c15)" d="M560.9 246.2l0 2.5M562.2 247.6l0 4.5M563.5 247.2l0 3.4M566.1 249l0 3.5M567.4 248.9l0 3.6M568.7 245.9l0 5.3M570 251.9l0 0.6M571.3 246l0 5.1M571.3 252.2l0 0.3M573.9 248.1l0 3.2M575.2 243.6l0 2.8M575.2 249.2l0 2.6M576.5 244.1l0 5.8M576.5 252l0 0.5M577.8 245l0 4.2M579.1 244.4l0 3.7M580.4 244.6l0 2M580.4 249.4l0 2.1M581.7 243.2l0 4.5M581.7 250.8l0 1.7M583 243.6l0 2.2M583 249.8l0 2.7M584.3 244.6l0 3.5M584.3 250.2l0 2.3M585.6 245.9l0 2.1M585.6 251.2l0 1.3M586.9 243.1l0 2.7M586.9 249l0 2.4M588.2 245.4l0 3.8M588.2 250.6l0 1.9M589.5 243.7l0 2.9M589.5 249.2l0 2.8M590.8 242.8l0 3.1M590.8 248.8l0 3.7M592.1 243.8l0 5.2M592.1 251l0 1.5M593.4 246.9l0 2.6M594.7 246.7l0 5.8M596 246.3l0 2.9M597.3 244.7l0 4.1M597.3 250.8l0 1.7M598.6 243.3l0 5.2M599.9 246l0 4.3M601.2 243.2l0 3.2M602.5 243.5l0 3M602.5 249l0 3.5M603.8 243.9l0 5.3M605.1 245.3l0 5.2M605.1 251.5l0 1M606.4 242.7l0 3.1M606.4 248.1l0 3.9M607.7 241.9l0 2.5M607.7 245.6l0 5.9M609 243.3l0 3.3M609 248.6l0 3.9M610.3 241.5l0 3.3M610.3 247.5l0 4.9M611.6 241.1l0 3.5M611.6 247.9l0 3.5M612.9 242.4l0 3.5M612.9 249l0 3.5M614.2 242l0 4.1M614.2 247.4l0 3.7M615.5 245.1l0 3.5M615.5 251.9l0 0.6M616.8 244.8l0 4.6M618.1 244.4l0 4.9M618.1 250.6l0 1.9M619.4 244.7l0 2.2M619.4 248.1l0 4.4M620.7 244.6l0 2.5M622 244.2l0 2.1M622 248.8l0 3.7M623.3 244.9l0 2.2M623.3 249.8l0 2.7M624.6 242.4l0 4.5M624.6 249l0 3.5M625.9 243.1l0 2.3M625.9 249.4l0 3.1M627.2 244.2l0 5M627.2 251.7l0 0.8M628.5 241.9l0 2.4M628.5 248.1l0 4.1M629.8 241.7l0 3.1M629.8 247.5l0 3.3M631.1 244.2l0 3.2M631.1 249.7l0 2.8M632.4 240.7l0 2.1M632.4 245l0 2.7M632.4 249.6l0 2.9M633.7 242.4l0 4.4M633.7 250.3l0 2.2M635 244l0 5.4M636.3 245.4l0 3.9M636.3 251l0 1.5M637.6 245.1l0 3M637.6 249.8l0 2.7M638.9 245.3l0 3M638.9 250.3l0 2.2M640.2 242.2l0 5.3M640.2 249.6l0 2.9M641.5 243.2l0 3.7M642.8 244.2l0 2.5M642.8 249.6l0 2.5M644.1 242.5l0 5.8M644.1 251.6l0 0.9M645.4 244.8l0 5.2M646.7 246.3l0 4.7M646.7 252.4l0 0.1M648 246.3l0 4.3M649.3 247.2l0 2.7M650.6 245.7l0 5.7M651.9 248.1l0 4.4M653.2 247l0 3.2M653.2 251.4l0 1.1M654.5 248.6l0 3.4M655.8 249.7l0 2.2M657.1 249.8l0 2.7M658.4 249.4l0 3.1M659.7 248.2l0 3.1M661 251.2l0 1.3M662.3 250l0 2.5M663.6 250.9l0 1.6M664.9 251.1l0 1.4M667.5 250.1l0 2.4M668.8 251.3l0 1.2M671.4 252.3l0 0.2M672.7 252.2l0 0.3" stroke="#000" stroke-width="1.3" fill="none"/><polyline points="559,245.6 562.5,245.9 566,245 569.5,245.1 573,244.6 576.5,242.8 580,242.2 583.5,243.8 587,242.1 590.5,241.9 594,243.5 597.5,242 601,242.6 604.5,241.5 608,241.7 611.5,240.3 615,241.2 618.5,241.8 622,241 625.5,241.5 629,241.3 632.5,239.9 636,241.5 639.5,241.8 643,242 646.5,242.3 650,245.2 653.5,245.2 657,246.7 660.5,248 664,248.6 667.5,250 671,249.5 674,250" stroke="#000" stroke-width="2.4" fill="none" stroke-linejoin="round" stroke-linecap="round"/><path clip-path="url(#c16)" d="M562 260.8l0 1.8M568 259l0 2.4M570 259l0 2.4M572 252.7l0 2.1M572 256.2l0 3M574 256.1l0 3.9M574 261.3l0 0.7M576 253.4l0 2.2M578 255.7l0 2.6M580 258.5l0 2M582 252.7l0 2.1M582 257.7l0 3.8M584 261.3l0 0.6M586 255.8l0 2.2M588 252.5l0 2.8M588 258.3l0 3.1M592 253.5l0 2.8M592 259.6l0 2.6M594 260.3l0 2.1M596 258.1l0 2.2M602 252.3l0 3.3M602 261.8l0 0.3M606 252.8l0 2.4M606 258.6l0 2.2M608 252.8l0 3.8M616 253.4l0 4M616 259.7l0 2M622 261.5l0 1M624 261l0 1.1M626 258.7l0 2.2M630 253.5l0 2.3M632 261.6l0 0.1M634 255.2l0 2M634 259.8l0 1.7M638 260.2l0 1.1M640 253.7l0 2.5M642 255.2l0 2.5M644 254.2l0 2.6M650 261.3l0 0.7M652 261.1l0 0.9M654 254.2l0 3M654 260.3l0 2.3M656 260.4l0 2.4M660 253.3l0 2.8M660 261.2l0 1M662 260.5l0 1.1M664 255.8l0 2.1M666 252.9l0 3.9M668 254.6l0 2.3M668 260.2l0 2.4M670 260.2l0 2.8M672 256l0 2.6" stroke="#000" stroke-width="1.0" fill="none"/><polyline points="559,252.5 561.5,252 564,252.1 566.5,253 569,253.1 571.5,253.1 574,252.2 576.5,252.3 579,253 581.5,252.5 584,252.7 586.5,252.3 589,251.9 591.5,252.3 594,252.8 596.5,252.8 599,252.6 601.5,252.5 604,252.5 606.5,252.4 609,252.5 611.5,252.9 614,252.1 616.5,252.6 619,253 621.5,252.9 624,252.1 626.5,253.1 629,252.9 631.5,252.1 634,252.2 636.5,252.1 639,252 641.5,253.1 644,252.4 646.5,252.9 649,252 651.5,251.9 654,252.9 656.5,252.9 659,253.1 661.5,252.7 664,252.5 666.5,252.8 669,252 671.5,252.5 674,252.5" stroke="#000" stroke-width="1.0" fill="none" stroke-linejoin="round" stroke-linecap="round"/><polyline points="559,263 563,262.5 567,262.1 571,262.2 575,262 579,261.4 583,262.2 587,261.1 591,262.1 595,262.4 599,262 603,262.2 607,263.1 611,263 615,261.3 619,262.7 623,262.4 627,261.1 631,261.8 635,261.5 639,261.2 643,262.2 647,263 651,261.7 655,262.9 659,262.5 663,261.3 667,262.9 669.4,263.9 671.8,264.6 674,266" stroke="#000" stroke-width="2.0" fill="none" stroke-linejoin="round" stroke-linecap="round"/><rect x="563" y="268.6" width="14" height="2.2" fill="#000"/><rect x="582.7" y="268.6" width="7.3" height="2.2" fill="#000"/><rect x="596.8" y="268.6" width="7.6" height="2.2" fill="#000"/><rect x="612" y="268.6" width="7.7" height="2.2" fill="#000"/><rect x="625" y="268.6" width="8.8" height="2.2" fill="#000"/><rect x="640.4" y="268.6" width="7.6" height="2.2" fill="#000"/><rect x="654.5" y="268.6" width="6.5" height="2.2" fill="#000"/><rect x="665.4" y="268.6" width="7.6" height="2.2" fill="#000"/><path d="M614 291L614 374.3" stroke="#000" stroke-width="2.7" stroke-linecap="butt"/><polyline points="606.4,309.4 614,299.5 622.8,309.4" stroke="#000" stroke-width="2.2" fill="none"/><path d="M545 331.3L686.5 331.3" stroke="#000" stroke-width="2.4" stroke-linecap="butt"/><path d="M547.2 330L547.2 428.8" stroke="#000" stroke-width="3.8" stroke-linecap="butt"/><path d="M685 330L685 426" stroke="#000" stroke-width="2.6" stroke-linecap="butt"/><path d="M551.3 332V423" stroke="#000" stroke-width="1.2" stroke-dasharray="4 1.5"/><path d="M555 332V426" stroke="#000" stroke-width="1.5"/><path d="M557.6 332V420" stroke="#000" stroke-width="1.1" stroke-dasharray="3 2"/><path d="M560.3 332V428" stroke="#000" stroke-width="1.4"/><path d="M564 332V427" stroke="#000" stroke-width="1.5"/><path d="M566.3 377V415" stroke="#000" stroke-width="1.6"/><path d="M573.8 332V424" stroke="#000" stroke-width="1.8"/><path d="M579.8 332V416.5" stroke="#000" stroke-width="1.7"/><path d="M588.9 353.6V416.7" stroke="#000" stroke-width="1.4" stroke-dasharray="6 1.5"/><path d="M604 354V375" stroke="#000" stroke-width="1.7"/><path d="M636 352.8V394.2" stroke="#000" stroke-width="1.8" stroke-dasharray="10 3"/><path d="M648 332V416.7" stroke="#000" stroke-width="1.3" stroke-dasharray="3 1.5"/><path d="M657.8 332V421" stroke="#000" stroke-width="1.7"/><path d="M666.1 332V400" stroke="#000" stroke-width="1.4" stroke-dasharray="4 2"/><path d="M671.4 332V424" stroke="#000" stroke-width="1.5"/><path d="M677.4 332V420" stroke="#000" stroke-width="1.2" stroke-dasharray="3 1.5"/><path d="M681.1 332V423" stroke="#000" stroke-width="1.3" stroke-dasharray="5 1.5"/><g clip-path="url(#c18)"><g clip-path="url(#c17)"><path d="M40 498.9L140 401.9M40 511.5L140 414.5M40 524.1L140 427.1M40 536.7L140 439.7M40 549.3L140 452.3M40 561.9L140 464.9M40 574.5L140 477.5M40 587.1L140 490.1M40 599.7L140 502.7M40 612.3L140 515.3M40 624.9L140 527.9M40 637.5L140 540.5M40 650.1L140 553.1M40 662.7L140 565.7M40 675.3L140 578.3M40 687.9L140 590.9M40 700.5L140 603.5M40 713.1L140 616.1M40 725.7L140 628.7M40 738.3L140 641.3M40 750.9L140 653.9M40 763.5L140 666.5M40 776.1L140 679.1" stroke="#000" stroke-width="1.35" fill="none"/></g></g><path d="M59 519A76 76 0 1 1 53 670.8" stroke="#000" stroke-width="2.7" fill="none" stroke-linecap="round"/><rect x="7.5" y="591.5" width="24.5" height="4.5" fill="#000"/><rect x="17.7" y="582.5" width="4" height="23.5" fill="#000"/><g clip-path="url(#c20)"><g clip-path="url(#c19)"><path d="M360 498.4L440 423.2M360 511.5L440 436.3M360 524.6L440 449.4M360 537.7L440 462.5M360 550.8L440 475.6M360 563.9L440 488.7M360 577L440 501.8M360 590.1L440 514.9M360 603.2L440 528M360 616.3L440 541.1M360 629.4L440 554.2M360 642.5L440 567.3M360 655.6L440 580.4M360 668.7L440 593.5M360 681.8L440 606.6M360 694.9L440 619.7M360 708L440 632.8M360 721.1L440 645.9M360 734.2L440 659M360 747.3L440 672.1M360 760.4L440 685.2" stroke="#000" stroke-width="1.3" fill="none"/></g></g><g clip-path="url(#c22)"><g clip-path="url(#c21)"><path d="M360 498.4L440 423.2M360 511.5L440 436.3M360 524.6L440 449.4M360 537.7L440 462.5M360 550.8L440 475.6M360 563.9L440 488.7M360 577L440 501.8M360 590.1L440 514.9M360 603.2L440 528M360 616.3L440 541.1M360 629.4L440 554.2M360 642.5L440 567.3M360 655.6L440 580.4M360 668.7L440 593.5M360 681.8L440 606.6M360 694.9L440 619.7M360 708L440 632.8M360 721.1L440 645.9M360 734.2L440 659M360 747.3L440 672.1M360 760.4L440 685.2" stroke="#000" stroke-width="1.3" fill="none" stroke-dasharray="6 2.5"/></g></g><path d="M436 521.1A75 75 0 0 0 427.4 670.1" stroke="#000" stroke-width="2.7" fill="none" stroke-linecap="round"/><rect x="464.3" y="596" width="23.4" height="5.5" fill="#000"/><path clip-path="url(#c23)" d="M135 596l-0 -3.8M135 593.4l0 1.5M143 596l-0 -2.5M145 596l-0 -1.7M149 596l-0 -1.3M151 578.2l0 2.5M151 583.8l0 2.9M155 593.5l0 1.9M157 596l-0 -3.8M159 596l-0 -3M159 593.6l0 2.1M161 574.5l0 1.2M161 592.1l0 1.5M165 573.1l0 3M165 581.1l0 2.1M169 582.8l0 2.4M169 591.9l0 1.5M171 596l-0 -2.2M173 583l0 2.8M175 592.9l0 1.1M177 580.3l0 1.5M185 596l-0 -4.7M187 596l-0 -2.7M191 596l-0 -2.5M195 596l-0 -1.8M197 596l-0 -3.5M199 596l-0 -2.3M201 596l-0 -4.1M203 596l-0 -1.4M209 596l-0 -1.5M211 596l-0 -4.7M211 583.7l0 2.6M215 596l-0 -2.3M217 596l-0 -3.5M219 596l-0 -3.2M219 589.7l0 2.3M221 596l-0 -3.4M221 587.7l0 2.1M225 596l-0 -4M227 596l-0 -3.7M229 596l-0 -2.4M233 596l-0 -3.1M235 596l-0 -3M237 596l-0 -2.9M239 596l-0 -2.4M245 596l-0 -2.1M247 586.7l0 2.3M249 596l-0 -4.4M253 596l-0 -4.5M257 584.7l0 2M259 596l-0 -2M259 573.9l0 2.3M261 569.4l0 1.8M263 586.8l0 2.2M267 596l-0 -3.9M267 591.8l0 1.9M271 596l-0 -4.4M273 596l-0 -4.7M275 572l0 2M277 586.8l0 2.4M281 596l-0 -1.1M285 596l-0 -1M287 582.5l0 1M287 594.6l0 1.4M289 582.5l0 1.4M291 596l-0 -2.7M293 596l-0 -1.3M299 596l-0 -3.1M299 589.9l0 2.8M301 596l-0 -4.6M309 596l-0 -4.6M311 596l-0 -4.5M311 590.9l0 1.4M311 594.6l0 1.4M313 596l-0 -3.8M313 585l0 1.3M313 588.5l0 2.9M315 596l-0 -3.2M315 571.7l0 1.1M317 596l-0 -1.2M319 596l-0 -4.9M321 596l-0 -3.3M325 596l-0 -2.6M327 596l-0 -3.2M331 596l-0 -1.8M333 596l-0 -2.3M341 578.6l0 1.3M343 596l-0 -1.3M343 592.6l0 2M345 596l-0 -2.3M351 583l0 1.4M355 596l-0 -3.4M357 596l-0 -3M359 596l-0 -2M359 595.3l0 0.7" stroke="#000" stroke-width="1.0" fill="none"/><polyline points="134,581 136.6,579.5 139.2,578.6 141.5,577 144.2,576.3 146.2,574.2 147.6,571.7 149.7,569.7 151.7,571.6 153,574 153.5,577 154.1,580 154.4,583 154.1,586.1 157.4,587.2 158.5,584.8 157.4,582 159.2,579.7 159.1,577 159.5,574.5 159.5,571.9 160.7,569.6 163,568.2 164.1,565.8 166.1,564.2 166.5,567 167.1,569.9 166.8,572.8 168.5,575.5 168.3,578.4 171.6,581.7 172.4,578.8 174.6,576.7 176,574.1 176.4,576.6 176.7,579.1 178,581.5 178,584.1 178,586.7 178.6,589.1 179.2,591.6 179.6,588.8 179.9,585.9 180.7,583.2 182.7,580.8 182.5,577.8 183.6,575.2 184.1,572 185.5,569.2 186.9,566.4 189.5,568.9 191.3,571.9 192.1,574.4 193.6,576.6 193.7,579.3 194.6,581.7 195.4,579.2 195.7,576.6 196.4,574.1 196.3,571.4 197.1,568.9 197.8,566.4 199.9,564.7 201.2,562.2 203.3,560.4 205.8,562.7 208.8,564.2 209.7,566.7 209.6,569.3 209.4,571.9 210.1,574.4 211.2,576.9 211.2,579.5 213.8,580.5 216.3,581.7 218.6,583.2 219.5,580.6 219.4,577.7 220.6,575.1 220.9,572.4 221.1,569.6 223.7,569.5 226,568.4 228.1,570.6 230.5,572.5 232.2,575.1 234.6,577 236.2,579.1 238.3,580.9 239.3,583.4 240.8,585.6 240.9,582.8 241.3,580.1 242.2,577.5 243.9,575.1 244.1,572.4 244.3,569.6 245,567 247.5,566.6 250,566 251.1,568.5 251.7,571.1 253,573.5 253,576.4 254,578.9 255.3,581.3 256.2,578.8 257.3,576.4 258,573.9 259.6,571.7 260.7,569.3 261.8,566.9 262.1,564.2 263.7,566.4 263.5,569.3 265.5,571.4 266.6,573.7 267.2,576.4 267.8,578.9 269,581.3 269.8,578.6 271.9,576.6 273.7,574.5 274.8,571.9 275.8,569.3 277.3,571.4 279.9,572.3 281.5,574.3 283.5,575.9 285.2,577.7 286.5,580 288.8,581.3" stroke="#000" stroke-width="3.0" fill="none" stroke-linejoin="round" stroke-linecap="round"/><polyline points="312.7,579.6 314.2,577.1 313.8,574.1 315,571.6 315.8,568.9 317.1,566.4 317.1,563.5 317.9,560.8 319.3,563.2 320.2,565.7 321,568.3 321.3,571 322.8,573.4 322.7,576.3 324.3,578.6 325.4,581 325.2,584 326.4,586.4 328.9,584.7 331.6,583.3 333.9,581.3 337,579.8 340,578 344.2,579.6 347.1,580.1 350,581 352.7,583.3 354.4,586.4 355.1,589 356.5,591.1 357.9,593.3 362,596" stroke="#000" stroke-width="2.6" fill="none" stroke-linejoin="round" stroke-linecap="round"/><path clip-path="url(#c24)" d="M312.6 579.8l0 2.3M312.6 594.9l0 0.1M313.9 580.5l0 5.3M313.9 589.2l0 2.3M313.9 592.6l0 2.4M315.2 571.5l0 5.6M315.2 580.7l0 5M315.2 589l0 4.4M316.6 566l0 4.1M316.6 572.4l0 5.9M316.6 582.1l0 4.2M316.6 589l0 2.8M317.9 564.5l0 5.7M317.9 571.5l0 3.9M317.9 576.7l0 4M317.9 583.5l0 2.8M317.9 589.3l0 2.3M319.2 568.5l0 2.2M319.2 572.7l0 3.7M319.2 577.5l0 4.5M319.2 585.6l0 2.4M319.2 590.6l0 2.1M320.5 570l0 2.6M320.5 574.4l0 5.3M320.5 588.7l0 5.5M321.8 580l0 2.2M321.8 583.9l0 2.9M321.8 588.3l0 3.1M323.1 578.1l0 5.7M323.1 586.4l0 2.1M324.4 581.5l0 5.3M325.7 588.1l0 3.9M325.7 594.2l0 0.8M327 590.9l0 4.1M328.3 594.8l0 0.2" stroke="#000" stroke-width="1.0" fill="none"/><path clip-path="url(#c25)" d="M310.9 595l-0 -5.4M312.8 595.1l-0 -10.2M314.7 595.1l-0 -11.4M318.5 595.2l-0 -10M320.4 595.2l-0 -8.6M322.3 595.2l-0 -10.8M324.2 595.3l-0 -9.9M326.1 595.3l-0 -6.2M328 595.3l-0 -9.5M329.9 595.4l-0 -5.9M331.8 595.4l-0 -7.4M333.7 595.5l-0 -7.4M335.6 595.5l-0 -3.2M337.5 595.5l-0 -7.7M339.4 595.6l-0 -8.3M341.3 595.6l-0 -6.9M345.1 595.7l-0 -7.5M347 595.7l-0 -10.2M348.9 595.7l-0 -5.5M350.8 595.8l-0 -7.6M352.7 595.8l-0 -7.5M358.4 595.9l-0 -2.3M360.3 596l-0 -1.1" stroke="#000" stroke-width="1.2" fill="none"/><path d="M135 595.5V597.7M136.9 595.5V599.4M140.7 595.5V602.8M142.6 595.5V603.1M146.4 595.5V604.4M148.3 595.5V607.7M150.2 595.5V608.6M154 595.5V606.2M155.9 595.5V603.2M157.8 595.5V605.2M159.7 595.5V609M161.6 595.5V613M163.5 595.5V608.6M165.4 595.5V603.2M167.3 595.5V604.8M169.2 595.5V610.5M171.1 595.5V609.9M173 595.5V606.1M174.9 595.5V601.2M176.8 595.5V600.1M178.7 595.5V599.3M182.5 595.5V610.9M184.4 595.5V618.9M188.2 595.5V606.3M190.1 595.5V604.5M192 595.5V606.7M193.9 595.5V608.3M197.7 595.5V610.6M201.5 595.5V605.3M207.2 595.5V618.2M209.1 595.5V611M211 595.5V604.7M212.9 595.5V606.3M214.8 595.5V607.4M216.7 595.5V608M218.6 595.5V606.5M220.5 595.5V605.1M224.3 595.5V608.8M226.2 595.5V610.9M228.1 595.5V612.7M230 595.5V614.8M231.9 595.5V612.3M235.7 595.5V605.1M237.6 595.5V605.7M241.4 595.5V606.1M243.3 595.5V605.9M245.2 595.5V607.4M247.1 595.5V606.9M249 595.5V607.3M250.9 595.5V609.3M252.8 595.5V610M254.7 595.5V611M256.6 595.5V611.6M258.5 595.5V617.2M260.4 595.5V619.8M262.3 595.5V623.6M264.2 595.5V618.8M266.1 595.5V615.6M269.9 595.5V613M271.8 595.5V613M273.7 595.5V614.2M275.6 595.5V613.6M277.5 595.5V611M279.4 595.5V609.6M281.3 595.5V606.2M283.2 595.5V605.6M285.1 595.5V605.7M287 595.5V607.7M290.8 595.5V608.3M292.7 595.5V606.8M294.6 595.5V607.6M296.5 595.5V607.6M298.4 595.5V607.7M300.3 595.5V607.9M302.2 595.5V611.2M304.1 595.5V611.4M306 595.5V612.7M307.9 595.5V612.7M313.6 595.5V606M315.5 595.5V602.8M317.4 595.5V604.3M319.3 595.5V605.7M321.2 595.5V604.5M325 595.5V601.3M326.9 595.5V604.3M328.8 595.5V609M330.7 595.5V612.2M332.6 595.5V606.8M334.5 595.5V603.5M338.3 595.5V604.8M342.1 595.5V605.2M344 595.5V602.2M345.9 595.5V599.6M349.7 595.5V608M351.6 595.5V608M353.5 595.5V605.1M355.4 595.5V601M357.3 595.5V602.9M361.1 595.5V597.9" stroke="#000" stroke-width="1.3" fill="none"/><polygon points="135,595 180,595 180,601 150,603 140,601" fill="#000"/><polyline points="134,598 135.7,600.3 138.3,601.7 140,604 142.9,605.3 146,606 147.9,608.2 150,610.2 151.9,612.4 152.9,610 154,607.7 155.4,605.5 156,603 157.2,605.7 158.9,608.2 160.3,610.9 161.7,613.5 162.5,611 163.9,608.8 165.3,606.5 166,604 167,606.4 168.2,608.8 169.4,611.1 170.5,613.5 172.1,611.1 173.1,608.4 173.9,605.6 175,603 179,601 179.6,603.6 180.1,606.1 181.4,608.5 181.7,611.1 182.8,613.5 183,616.1 184.2,618.5 184.7,621.1 185.8,618.8 186.1,616.3 186.6,613.8 187.2,611.3 187.9,608.9 188.2,606.4 189,604 191.3,606.2 192.8,609 195.3,610.1 197.8,611.3 199.2,608.5 201,606 202,608.3 203.1,610.6 204.1,612.9 204.3,615.5 205.8,617.6 206.6,620 207.7,617.5 208,614.7 208.8,612.1 210.3,609.7 211,607 213.6,607.9 216.2,609 219.2,607.8 222,606 224.2,608 225.6,610.6 227.3,613 229.3,615.1 230.9,617.6 231.9,614.8 232.2,611.7 232.8,608.8 234,606 238.3,606.5 241.8,607.3 245,608.7 247.5,608.4 250,609 253,610.4 256,612 256.8,614.4 258.3,616.5 259.2,618.8 260.2,621.1 261.3,623.4 262.1,625.8 263.4,623.6 264.4,621.3 264.7,618.8 266.2,616.7 267.4,614.5 268,612 271.2,613.3 274,615.5 276.1,613.3 278,610.9 280.3,609 282.6,607 285.1,607.1 287.6,607.8 290.1,608 292.5,608.9 295,609 297.6,609.2 300,610 302.5,611.4 305,612.7 307.4,614.3 310,615.5 311.2,613.3 311.8,610.8 312.9,608.6 314.2,606.4 315,604 317.4,605.9 320.2,607 322.6,605 325,603 326.3,605.8 327.9,608.3 329.2,611.1 330.5,613.8 331.5,611 332.7,608.4 333.7,605.6 335,603 338,604.9 340.8,607 343.1,604.2 346,602 348,604.6 349,607.8 351,610.4 352.2,607.5 354.1,605 355,602 357.4,603.4 359.6,605.2 360.3,602.4 361.6,599.8 362,597" stroke="#000" stroke-width="1.7" fill="none" stroke-linejoin="round" stroke-linecap="round"/><path d="M134 595.5L364 595.5" stroke="#000" stroke-width="1.8" stroke-linecap="butt"/><path d="M289 610C281 615 279 630 284 640C289 649 300 651 308 646C316 640 314 626 310 616C308 611 307 606 305 604" stroke="#000" stroke-width="2.6" fill="#fff" stroke-linejoin="round" stroke-linecap="round"/><path clip-path="url(#c26)" d="M285.4 628.9l0 4.4M285.4 636l0 1M287 620.6l0 5.7M287 629.8l0 3.5M288.6 613.8l0 4M288.6 621.2l0 3.3M288.6 637.7l0 3.4M290.2 637.6l0 2.8M291.8 612.2l0 3.4M291.8 640.1l0 3.2M293.4 613.1l0 2.6M293.4 619.7l0 3.6M293.4 630.8l0 3.8M293.4 638.5l0 5.4M295 622.6l0 4.5M295 629.3l0 5.4M295 645l0 0.2M298.2 609.9l0 4.7M298.2 629.7l0 4.6M298.2 643.3l0 3.7M299.8 611.6l0 3.2M299.8 617.3l0 2M299.8 624.8l0 3.2M299.8 639.7l0 4.4M301.4 623.9l0 4.5M301.4 630.1l0 4.4M301.4 637.5l0 4.2M301.4 643.3l0 2.3M303 608.2l0 2M303 613.8l0 4.5M303 621.7l0 5.6M303 635.3l0 3.9M304.6 634.3l0 3.5M304.6 640l0 4M306.2 620.3l0 5.6M306.2 629.4l0 4.6M306.2 636.8l0 2.3M307.8 622.6l0 3.4M307.8 627.2l0 2.3M307.8 631.2l0 3.3M307.8 637l0 5.3M309.4 627.7l0 5.6M309.4 636.8l0 4.9M311 624.7l0 4.7M311 639.7l0 1" stroke="#000" stroke-width="1.0" fill="none"/><path d="M300 640C306 638 310 630 309 620L312 628C314 640 308 647 298 648Z" fill="#000"/><path d="M290 581C284 570 283 556 286 548C289 542 295 539.5 301 541C308 544 311 552 310.5 560C310 566 308.5 571 308 575" stroke="#000" stroke-width="2.6" fill="none" stroke-linejoin="round" stroke-linecap="round"/><path d="M292 556C291 550 297 549 301 551C305 554 306 562 304 572C302 582 301 590 301 600L303 612L298 612L298 600C297 585 292 570 292 556Z" fill="#000"/><g clip-path="url(#c28)"><g clip-path="url(#c27)"><path d="M610 507.9L710 420.9M610 518.5L710 431.5M610 529.1L710 442.1M610 539.7L710 452.7M610 550.3L710 463.3M610 560.9L710 473.9M610 571.5L710 484.5M610 582.1L710 495.1M610 592.7L710 505.7M610 603.3L710 516.3M610 613.9L710 526.9M610 624.5L710 537.5M610 635.1L710 548.1M610 645.7L710 558.7M610 656.3L710 569.3M610 666.9L710 579.9M610 677.5L710 590.5M610 688.1L710 601.1M610 698.7L710 611.7M610 709.3L710 622.3M610 719.9L710 632.9M610 730.5L710 643.5M610 741.1L710 654.1M610 751.7L710 664.7M610 762.3L710 675.3" stroke="#000" stroke-width="1.3" fill="none"/></g></g><path d="M638.1 532.1A68 68 0 1 1 618.3 666.2" stroke="#000" stroke-width="2.7" fill="none" stroke-linecap="round"/><rect x="590.5" y="599" width="24.4" height="4.5" fill="#000"/><rect x="600.6" y="589" width="4" height="23.7" fill="#000"/><g clip-path="url(#c30)"><g clip-path="url(#c29)"><path d="M1070 513.5L1180 421.1M1070 523.1L1180 430.7M1070 532.7L1180 440.3M1070 542.3L1180 449.9M1070 551.9L1180 459.5M1070 561.5L1180 469.1M1070 571.1L1180 478.7M1070 580.7L1180 488.3M1070 590.3L1180 497.9M1070 599.9L1180 507.5M1070 609.5L1180 517.1M1070 619.1L1180 526.7M1070 628.7L1180 536.3M1070 638.3L1180 545.9M1070 647.9L1180 555.5M1070 657.5L1180 565.1M1070 667.1L1180 574.7M1070 676.7L1180 584.3M1070 686.3L1180 593.9M1070 695.9L1180 603.5M1070 705.5L1180 613.1M1070 715.1L1180 622.7M1070 724.7L1180 632.3M1070 734.3L1180 641.9M1070 743.9L1180 651.5M1070 753.5L1180 661.1M1070 763.1L1180 670.7" stroke="#000" stroke-width="1.35" fill="none"/></g></g><g clip-path="url(#c32)"><g clip-path="url(#c31)"><path d="M1070 513.5L1180 421.1M1070 523.1L1180 430.7M1070 532.7L1180 440.3M1070 542.3L1180 449.9M1070 551.9L1180 459.5M1070 561.5L1180 469.1M1070 571.1L1180 478.7M1070 580.7L1180 488.3M1070 590.3L1180 497.9M1070 599.9L1180 507.5M1070 609.5L1180 517.1M1070 619.1L1180 526.7M1070 628.7L1180 536.3M1070 638.3L1180 545.9M1070 647.9L1180 555.5M1070 657.5L1180 565.1M1070 667.1L1180 574.7M1070 676.7L1180 584.3M1070 686.3L1180 593.9M1070 695.9L1180 603.5M1070 705.5L1180 613.1M1070 715.1L1180 622.7M1070 724.7L1180 632.3M1070 734.3L1180 641.9M1070 743.9L1180 651.5M1070 753.5L1180 661.1M1070 763.1L1180 670.7" stroke="#000" stroke-width="1.2" fill="none" stroke-dasharray="2.5 3"/></g></g><path d="M1172.1 539.2A67 67 0 1 0 1134.9 664.8" stroke="#000" stroke-width="2.7" fill="none" stroke-linecap="round"/><rect x="1163" y="595.3" width="23" height="5.5" fill="#000"/><path clip-path="url(#c33)" d="M722.5 561.9l0 2.6M724.3 560.6l0 7M729.7 559.7l0 5.2M729.7 566l0 3.7M733.3 565.7l0 2.5M736.9 563.9l0 6.9" stroke="#000" stroke-width="1.2" fill="none"/><polygon points="719.8,565.7 720.8,563.2 722.3,561 724,559 726.7,558.4 729.4,558.5 731,560.9 733,563 735.5,563.5 738,563.7 739.8,566 742.3,567.6 740.4,569.6 739,572 735,570 736.2,573.4 737,577 734.6,577.8 732.1,578.6 730,580 727.9,578.6 725.7,577.4 723.9,575.6 722,574 721.1,571.3 720.2,568.5" stroke="#000" stroke-width="2.8" fill="none" stroke-linejoin="round" stroke-linecap="round"/><path clip-path="url(#c34)" d="M726.4 588.1l0 2.8M728.2 586.3l0 3.5M728.2 592.1l0 4.3M730 590.4l0 5.6M731.8 584.3l0 5.5M731.8 591.2l0 6.3M733.6 579.9l0 3.9M733.6 586l0 5.6M735.4 596.3l0 1.1M739 577.7l0 2.2M739 581.8l0 4.4M740.8 580.7l0 4.9" stroke="#000" stroke-width="1.2" fill="none"/><polygon points="725.5,584.8 727.9,583.3 730.3,582 732.4,580.2 734.6,578.4 737,577 739.9,576.6 742.8,577 742.2,579.6 742,582.3 741.2,584.8 740.5,587.4 740,590 738.3,592.1 737.2,594.6 736,597 733.6,598.5 731.3,600.1 729.4,597.3 727,595 726.4,592.5 726.1,589.9 726.1,587.3" stroke="#000" stroke-width="2.8" fill="none" stroke-linejoin="round" stroke-linecap="round"/><path clip-path="url(#c35)" d="M749.7 579.2l0 5.8M751.5 568l0 7M751.5 576.1l0 3.6M755.1 588.8l0 2.2M760.5 582.5l0 6.2M764.1 586.7l0 0.3" stroke="#000" stroke-width="1.2" fill="none"/><polygon points="748.5,566 751.2,565.7 754,566 753.5,569 752.2,571.9 752,575 752.8,577.7 753.7,580.5 754.5,583.2 755,586 757.5,584 760,582 760.8,579 761.2,576 762,573 764.8,571 765.2,573.8 765.2,576.6 765.2,579.4 764.6,582.2 765,585 763.8,588.4 762,591.5 759.3,591.1 756.6,591.6 754,591 752.6,588.5 750.5,586.5 749,584 748.8,581.4 747.9,579 747.1,576.6 747,574 747.1,571.3 748.3,568.7" stroke="#000" stroke-width="2.8" fill="none" stroke-linejoin="round" stroke-linecap="round"/><path clip-path="url(#c36)" d="M759.3 567.1l0 4.8M764.7 557.9l0 6.3M766.5 561.7l0 5.3M768.3 562.7l0 4M770.1 550.9l0 3.4M770.1 563.7l0 2.6M771.9 555.5l0 2.3M773.7 557.4l0 2.2M775.5 557.2l0 3.6M777.3 561.3l0 3.3M779.1 556.8l0 4.8M782.7 555.3l0 3.8M786.3 560.3l0 3.2M793.5 555.3l0 5M798.9 557.5l0 3.3M804.3 561.8l0 1.2" stroke="#000" stroke-width="1.2" fill="none"/><polygon points="753,576 754.1,573.4 755.7,571 757.5,568.8 758.4,566.1 760,563.7 760.2,560.9 761.5,558.3 762.1,555.5 762.9,552.8 763,550 763.8,547 765.2,544.3 766.7,541.7 768.4,544.8 770,548 770.3,550.6 771.5,553 771.9,555.6 773,558 774.4,555 776.3,552.2 779.2,553.1 782,554 784.1,552.6 786,551 789.7,550.3 792,551.4 794,553 795.5,550.5 797,548 800,551 800.7,553.5 801.7,555.9 802.8,558.3 803.7,560.7 805,563 802.5,562.5 800,562.8 797.5,563.1 795,562.8 792.5,563.3 790,563.6 787.5,563 785,563.5 782.5,563.7 780,564 777.3,564.2 774.8,565 772.2,565.9 769.6,566.3 767,567 764.9,568.9 762.5,570.2 760.1,571.6 757.5,572.8 755.2,574.4" stroke="#000" stroke-width="2.8" fill="none" stroke-linejoin="round" stroke-linecap="round"/><path clip-path="url(#c37)" d="M771.4 573.4l0 4M771.4 579.5l0 2.3M771.4 585.5l0 3.2M773.2 573l0 3M773.2 582.8l0 6.4M775 570l0 3.6M775 576.5l0 4.1M775 583.7l0 3.3M776.8 571.8l0 2" stroke="#000" stroke-width="1.2" fill="none"/><polygon points="770.5,571.4 772.9,570.6 774.8,568.7 777.3,568 777.3,570.5 777,573 776.4,575.5 776.6,578 776,580.5 776,583 775.7,585.6 774.6,588.1 774.6,590.8 774,593.4 772.6,590.7 771,588 771,585.2 771.2,582.5 770.8,579.7 770.4,576.9 770.5,574.2" stroke="#000" stroke-width="2.8" fill="none" stroke-linejoin="round" stroke-linecap="round"/><path clip-path="url(#c38)" d="M781.9 575.6l0 4M783.7 571l0 4M783.7 576l0 2.4M783.7 580.3l0 2.5M787.3 566.6l0 3M787.3 572.3l0 7" stroke="#000" stroke-width="1.2" fill="none"/><polygon points="781,569.5 783.1,568 785.7,567.6 787.8,566 787.8,569 788.2,572 787.5,575 788,578 787,580.3 785.4,582.3 784.8,584.8 783.5,582.5 782.1,580.4 781,578 780.7,575.2 780.5,572.3" stroke="#000" stroke-width="2.8" fill="none" stroke-linejoin="round" stroke-linecap="round"/><path clip-path="url(#c39)" d="M792.7 562.3l0 3.8M794.5 567.6l0 5M796.3 566.9l0 2.5" stroke="#000" stroke-width="1.2" fill="none"/><polygon points="790,564.6 790.4,562 791.4,559.6 792.1,557.1 792.5,554.5 793,552 794.9,547.4 797.1,549.6 799,552 799.4,555.1 800.7,557.9 800.9,561.1 802,564 800.4,566.3 799.5,569 798.7,571.7 797,574 794.4,573.2 792,572 790.9,569.6 790.4,567.1" stroke="#000" stroke-width="2.8" fill="none" stroke-linejoin="round" stroke-linecap="round"/><path clip-path="url(#c40)" d="M816.5 551l0 4.3M816.5 557.2l0 4.4M820.1 558.2l0 6.3M823.7 550.6l0 4.5M825.5 561.2l0 6.2M829.1 562.7l0 5.2" stroke="#000" stroke-width="1.2" fill="none"/><polygon points="812,566 812.4,563.2 813.2,560.5 813.7,557.8 814,555 816,552.3 817.1,549.2 820.1,548.6 823,548 824.6,550.4 826,553 825.4,555.6 824,558 826.3,559 828.5,560.2 830.7,561.3 833.1,562.2 831.4,565.4 829,568 830.6,570.9 831.5,574.1 833,577 829.9,577.7 827,579 825,576.9 822.3,575.8 820.4,573.6 818,572 816,570 814.1,567.9" stroke="#000" stroke-width="2.8" fill="none" stroke-linejoin="round" stroke-linecap="round"/><path clip-path="url(#c41)" d="M812.3 582.9l0 6.6M814.1 579.4l0 7M815.9 587.4l0 3.2M817.7 582.6l0 5M819.5 586.6l0 2.3M821.3 577.1l0 3.2M823.1 574.8l0 3.6M824.9 575.2l0 3" stroke="#000" stroke-width="1.2" fill="none"/><polygon points="806,588 807.4,585.9 808.9,583.9 810.5,582 812,580 814.3,578.7 816,576.7 818,575 820.6,575.3 823.1,574.5 825.7,574.5 825.7,577 825.8,579.5 826,582 823.8,584 821.8,586 820.3,588.6 818,590.5 815.4,591 812.7,591.2 810,591 808.2,589.3" stroke="#000" stroke-width="2.8" fill="none" stroke-linejoin="round" stroke-linecap="round"/><polygon points="841.7,575 843.8,572 846,569 849,568.8 852,568 855,568.3 857.9,570 861,571 861.4,573.9 863.5,576.1 863.9,579 862.4,582.3 862,586 859.7,587.1 857.5,588.6 855,589.3 851.9,589.4 849,588.2 846,588 844.3,584.8 842,582 841.7,578.5" stroke="#000" stroke-width="2.6" fill="#000" stroke-linejoin="round" stroke-linecap="round"/><g fill="#fff"><rect x="854.3" y="582.1" width="1.2" height="2.2"/><rect x="859.1" y="582.1" width="1.2" height="2.4"/><rect x="845.4" y="578" width="1.2" height="2.4"/><rect x="854.7" y="584.5" width="1.2" height="1.2"/><rect x="852" y="574.7" width="1.2" height="1.8"/><rect x="853.6" y="571.2" width="1.2" height="1.3"/><rect x="849.2" y="584.7" width="1.2" height="2.1"/><rect x="847.4" y="583" width="1.2" height="1.2"/><rect x="854.3" y="572.9" width="1.2" height="1"/><rect x="858.1" y="574.1" width="1.2" height="1.3"/><rect x="859.7" y="584.1" width="1.2" height="1.4"/><rect x="859.4" y="579.1" width="1.2" height="2"/><rect x="848.1" y="585.1" width="1.2" height="2"/><rect x="859.5" y="584.4" width="1.2" height="1.4"/></g><path clip-path="url(#c42)" d="M814.9 601.4l0 2.8M814.9 610l0 0.5M816.7 600.1l0 4.4M816.7 606.9l0 5.5M818.5 601.4l0 5.9M818.5 610.1l0 2M818.5 613.7l0 2.5M820.3 595.9l0 6.7M822.1 590.1l0 6.7M822.1 614.5l0 3M823.9 602.2l0 4M825.7 591.7l0 6.2M825.7 615.1l0 3.1M827.5 609l0 3.5M829.3 591.9l0 4.5M831.1 591.6l0 5.5M832.9 601.5l0 6" stroke="#000" stroke-width="1.2" fill="none"/><polygon points="822,590 824.6,589.4 827.4,589.8 830,589.3 832,590.9 833.9,592.6 836,594 836.6,596.7 836.9,599.5 837.2,602.3 838,605 837.2,608 836.5,611 836,614 833.9,616 831.5,617.5 829,618.8 826.5,618.4 824,617.8 821.5,617.7 819,617 817.5,614.2 815.8,611.6 814,609 813.8,606.5 814.5,604 814.5,601.5 815,599 816.4,596.5 818.2,594.3 820.1,592.1" stroke="#000" stroke-width="2.8" fill="none" stroke-linejoin="round" stroke-linecap="round"/><polygon points="822,590 827,590 820,605 816,612 815,600" fill="#000"/><path clip-path="url(#c43)" d="M840.2 592.5l0 0.8M843.8 594.5l0 2M843.8 598.3l0 0.4M845.6 595.4l0 3.8M847.4 593.8l0 5.6M849.2 592.1l0 3.8M852.8 597.9l0 2.2M856.4 599.2l0 1.5M858.2 593.5l0 3.4M858.2 598.3l0 2.7M860 595.1l0 6.1M863.6 600.1l0 0.2M865.4 598l0 0.8" stroke="#000" stroke-width="1.2" fill="none"/><polygon points="839.3,592 842,591.4 844.6,590.5 847.3,589.8 850,589.3 852.5,590 855,590.6 857.5,591.2 860,592 862.4,593.9 865,595.4 867.6,597 865.1,599.7 862,601.6 859.5,601.4 857,600.8 854.6,600 852,600 849.4,599.3 846.7,599.3 844,599 842,596.9 841.1,594.2" stroke="#000" stroke-width="2.8" fill="none" stroke-linejoin="round" stroke-linecap="round"/><polygon points="841,606 852,601 859,604 850,615 842,623.7 839.3,620" fill="#000"/><path clip-path="url(#c44)" d="M855.7 616.9l0 5.6M857.5 613.7l0 4.2M857.5 621.2l0 2.3M859.3 606l0 4.5M861.1 619.5l0 6.2M862.9 606l0 5.6M862.9 613.4l0 6.6M862.9 622.9l0 2.9M864.7 612l0 6.4M866.5 606.7l0 3.9M868.3 604.4l0 4.8M868.3 612.4l0 4.6M870.1 606.6l0 5.3M870.1 614.9l0 2.5M871.9 606.3l0 6M871.9 615.4l0 2.3M873.7 610.6l0 3.1" stroke="#000" stroke-width="1.2" fill="none"/><polygon points="853,608 855.4,606.8 857.3,604.7 859.8,603.6 862,602 865.1,602.5 868.3,603.1 871.3,604 873.1,606.6 874.5,609.4 876.2,612 874.8,614.6 873.2,617.1 871.9,619.7 870,622 867.2,623.1 864.6,624.7 862,626.2 859.8,624.5 857.3,623.5 855,622 854.9,619.2 854.2,616.4 853.9,613.6 853.5,610.8" stroke="#000" stroke-width="2.6" fill="none" stroke-linejoin="round" stroke-linecap="round"/><polygon points="866,604 873,603 876,610 869,612" fill="#000"/><path d="M703.5 594C710 590 716 584 722 582.5C735 580 748 577 760 570C772 565 785 562 800 564C815 567 827 580 839 591.7C848 600 856 608 865 617C875 618 885 614 895 610C905 606 912 603 920 601C928 598 935 595 947 597C955 599 962 599 971.5 597C980 594 988 588 996 583.3C1005 579 1013 577 1022 575.5C1032 573 1040 568 1048 566C1055 564 1062 563 1071.4 566.4C1075 568 1078 569 1080.5 570.3" stroke="#000" stroke-width="2.2" fill="none" stroke-linejoin="round" stroke-linecap="round"/><path clip-path="url(#c45)" d="M865.9 598.4l0 4M865.9 603.5l0 3M865.9 610.2l0 4.4M867.7 596.1l0 4.3M867.7 601.9l0 2.8M867.7 606.8l0 6.4M867.7 615l0 3.4M867.7 620.3l0 1.3M869.5 603.9l0 5.4M869.5 613.1l0 2.6M869.5 617.6l0 4.3M871.3 595.6l0 2.1M871.3 605.1l0 3.6M871.3 610.5l0 5.7M871.3 617.6l0 1.1M873.1 605.1l0 2.3M873.1 609.6l0 2.2" stroke="#000" stroke-width="1.2" fill="none"/><polygon points="865,596 867.4,594.4 870,593 872,595.1 873.7,597.4 875,600 874.4,603 874.5,606 873.8,609 874,612 873.4,614.7 872.2,617.1 871.4,619.7 870,622 867.5,621.6 865,621 864.6,618.5 864.8,616 864.9,613.5 864.8,611 864.6,608.5 864.5,606 865.5,603.5 864.7,601 865,598.5" stroke="#000" stroke-width="2.8" fill="none" stroke-linejoin="round" stroke-linecap="round"/><path clip-path="url(#c46)" d="M879.9 600.3l0 0.7M883.5 600.9l0 3.1M887.1 597.1l0 3.6M887.1 604l0 6.1M887.1 611.5l0 0M888.9 598.1l0 4.9M888.9 604.1l0 5.5M894.3 599.8l0 2.3M894.3 603.9l0 5.4M896.1 601.3l0 2.7M897.9 604.6l0 3.8M899.7 604.6l0 4.7" stroke="#000" stroke-width="1.2" fill="none"/><polygon points="879,599 882,598 885,597 888.1,597 891,596 893.3,598.4 895.9,600.4 898,603 900.2,604.9 902.7,606.3 905,608 903.7,610.3 901.3,611.7 900,614 897.5,614.5 895,613.9 892.5,614 890,614 887.9,611.7 885.3,610.1 883,608 881.4,605.1 880.1,602.1" stroke="#000" stroke-width="2.8" fill="none" stroke-linejoin="round" stroke-linecap="round"/><path clip-path="url(#c47)" d="M874.9 622.7l0 4.1M876.7 618.8l0 3.8M878.5 624.3l0 2.2M882.1 622.9l0 3.9M882.1 628l0 3.6M885.7 618.2l0 6M885.7 627l0 5.4M887.5 616.4l0 2.4M887.5 629.3l0 4.9M891.1 619.4l0 5.1M891.1 627l0 4.9M892.9 618.8l0 4M894.7 620.4l0 5.1M896.5 618.4l0 6.4" stroke="#000" stroke-width="1.2" fill="none"/><polygon points="876,618 878.5,617.3 881,617.1 883.6,616.9 886,616 889,615.9 892,616.6 895,617 898,617 897.8,619.8 897.4,622.6 896.4,625.2 896,628 893.8,629.3 891.8,630.9 889.9,632.5 888,634.3 885.5,634.1 883,633.7 880.5,633.3 878,633 877,630.2 875.2,627.8 874,625 874.8,621.4" stroke="#000" stroke-width="2.6" fill="none" stroke-linejoin="round" stroke-linecap="round"/><path clip-path="url(#c48)" d="M897.7 587.2l0 2.9M899.5 585.1l0 5M901.3 591.2l0 6.1M903.1 584.6l0 6.6M904.9 583l0 2.8M904.9 587.3l0 5.1M906.7 594.9l0 6.8M910.3 599.9l0 3.5" stroke="#000" stroke-width="1.2" fill="none"/><polygon points="895,584 897.6,583.2 900.4,583 903,582 906.6,582 910,583 911.6,584.9 913.7,586.4 915.8,587.9 917.3,590 915.4,593.1 913,596 915,599 917,602 914,602.8 911,603.3 908,604 905.7,602.3 903.8,600.2 902.3,597.7 900,596 898.9,593.6 898,591.2 896.6,589 895.8,586.5" stroke="#000" stroke-width="2.8" fill="none" stroke-linejoin="round" stroke-linecap="round"/><path clip-path="url(#c49)" d="M906.1 611.8l0 5.4M907.9 619.4l0 2.2M909.7 618l0 6.5M911.5 617l0 4.1M911.5 628.3l0 0.6M913.3 622l0 5M915.1 606.8l0 4.1M915.1 627.2l0 1.2M916.9 608.6l0 3.8M916.9 615.2l0 6.8M918.7 614.1l0 5.9M920.5 611.1l0 2.2M920.5 615.4l0 2.1M922.3 622.7l0 0" stroke="#000" stroke-width="1.2" fill="none"/><polygon points="906,608 908.9,606.9 912,606.6 915,606 917.2,607.5 919.7,608.7 922,610 922.9,613 923.1,616.1 924.3,619 923,621.8 921.4,624.3 920,627 917.2,627.4 914.8,628.9 912,629.3 909.9,627.6 908,625.8 906,624 905.8,621 905.2,618 905.2,615 905.6,611.5" stroke="#000" stroke-width="2.8" fill="none" stroke-linejoin="round" stroke-linecap="round"/><polygon points="906,620 912,622 918,628 910,629" fill="#000"/><path clip-path="url(#c50)" d="M918.9 601.1l0 2.4M918.9 604.9l0 0.1M920.7 603.6l0 5.7M924.3 603.3l0 2.9M926.1 599.6l0 6.1M927.9 599.9l0 6.7M927.9 607.8l0 5.4M931.5 599.2l0 5.8M931.5 611.4l0 2M933.3 604.4l0 2.4M935.1 599.1l0 2.7M936.9 598.8l0 3.3M938.7 607.6l0 2.5M940.5 608.4l0 0.1" stroke="#000" stroke-width="1.2" fill="none"/><polygon points="918,601 920.4,600.1 923.1,600.5 925.5,599.4 928,599 931,598.9 934,598.7 937,598 940,598 942.3,600.4 944.4,603 942.9,605.3 941.5,607.7 940,610 938,612 935.5,612.3 933,613.2 930.4,613.3 928,614.2 925.1,613.2 922.6,611.6 920,610 919,607.1 919.1,603.9" stroke="#000" stroke-width="2.8" fill="none" stroke-linejoin="round" stroke-linecap="round"/><path clip-path="url(#c51)" d="M926.7 581.9l0 3.1M926.7 587.7l0 3M928.5 590.8l0 1.7M933.9 593.4l0 2.8M935.7 590.9l0 2.7M937.5 588l0 2.8M939.3 586l0 3.8M941.1 588.5l0 6.6M942.9 584.7l0 6.9" stroke="#000" stroke-width="1.2" fill="none"/><polygon points="924,582 926.7,579.6 930,578 931.8,579.9 933.8,581.5 936,583 938.3,580.7 940,578 943.4,576 945,578.1 945.8,580.7 947,583 947.4,585.5 948.1,587.9 948.3,590.5 948.4,593 946,593.9 943.9,595.4 942,597 939.5,597 937,596.2 934.5,596.1 932,596 929.9,594.1 928.1,591.9 926,590 925.1,587.4 924.4,584.7" stroke="#000" stroke-width="2.8" fill="none" stroke-linejoin="round" stroke-linecap="round"/><path clip-path="url(#c52)" d="M946.3 600l0 5.3M948.1 601.8l0 4.2M948.1 609.2l0 3.8M949.9 601.4l0 5.4M949.9 608.6l0 4.7M951.7 599.5l0 5.8M957.1 599.4l0 3.7M957.1 605.3l0 2.4M957.1 608.7l0 4.1M958.9 607.6l0 5.4M960.7 601.6l0 4M962.5 612.6l0 0.1M966.1 603.3l0 3.6" stroke="#000" stroke-width="1.2" fill="none"/><polygon points="946,600 948.5,599.4 951,599.5 953.5,599.6 956,599 959,599.4 962,600 964.4,601 966.3,602.8 968.5,604 967.5,606.7 966.5,609.5 965,612 962.4,612.9 959.8,613.9 957,614.2 954,614.1 951,613.5 948,613 946.3,609.6 945.4,606 945.2,603" stroke="#000" stroke-width="2.6" fill="none" stroke-linejoin="round" stroke-linecap="round"/><path clip-path="url(#c53)" d="M955.7 585.4l0 2.4M959.3 590.9l0 4.6M962.9 585.7l0 5.2M964.7 578.2l0 4.2M964.7 585.4l0 3.2M964.7 595.3l0 2.5M966.5 577.1l0 3.7M966.5 583.8l0 4.3M966.5 597.7l0 0.2M971.9 581.9l0 2.3M971.9 591.7l0 4.3M973.7 592.5l0 4.4M975.5 575l0 6.4M977.3 584.5l0 2.9M977.3 591.2l0 4" stroke="#000" stroke-width="1.2" fill="none"/><polygon points="953,584 955,581.7 957.5,579.8 960,578 962.6,578 965.1,577.3 967.4,576.2 970,576 972.5,575.3 974.9,574.2 977.6,574 979.1,576.9 980.2,579.9 981,583 981.9,585.9 983.8,588.2 985,591 982.8,593.2 980.6,595.3 978,597 975.4,597.6 972.8,596.9 970.2,597.4 967.6,597.4 965,598 962.1,596.4 959.1,595.1 956,594 955,591.6 954.2,589.1 953.5,586.6" stroke="#000" stroke-width="2.8" fill="none" stroke-linejoin="round" stroke-linecap="round"/><path clip-path="url(#c54)" d="M976 604.9l0 2.2M977.8 597l0 2.4M977.8 601.5l0 6.8M979.6 599.1l0 5M981.4 601.9l0 3.5M981.4 606.4l0 0.4M983.2 603.4l0 0.3" stroke="#000" stroke-width="1.2" fill="none"/><polygon points="971.5,598 974.4,597.4 977.1,596.5 980,596 981,598.4 982.7,600.5 983.6,603 981.4,605.9 980,609.2 976.4,608.5 973,607 972.6,604 972.2,601" stroke="#000" stroke-width="2.8" fill="none" stroke-linejoin="round" stroke-linecap="round"/><path clip-path="url(#c55)" d="M972.2 589.1l0 5.5M974 585.8l0 6.2M975.8 588l0 3M977.6 575.5l0 3.3M977.6 581l0 6.5M977.6 596.2l0 2M981.2 582.3l0 5.1M981.2 589.9l0 3.3" stroke="#000" stroke-width="1.2" fill="none"/><polygon points="971.3,580 973,578.1 974.5,576.1 976,574 978.2,576.1 980.4,578.3 983,580 982.5,583 982.3,586 982,589 982,592 980.6,594.5 978.6,596.6 977,599 974.6,597.4 972,596 971.4,593.4 972,590.7 971.4,588 971.5,585.3 971.4,582.7" stroke="#000" stroke-width="2.8" fill="none" stroke-linejoin="round" stroke-linecap="round"/><path clip-path="url(#c56)" d="M979.5 597.5l0 7M984.9 601.3l0 5.8M988.5 602.6l0 6.3M992.1 597.3l0 3.6M992.1 603l0 2" stroke="#000" stroke-width="1.2" fill="none"/><polygon points="975,597 977.4,595.6 980,595 982.4,593.8 985,593 988.1,593.7 990.9,595.3 994,596 995.4,599.4 996,603 994,604.6 991.8,605.9 990,607.7 988,609.3 985.1,608.2 982,607.9 979,607 978.4,604.3 976.6,602.2 976.4,599.4" stroke="#000" stroke-width="2.8" fill="none" stroke-linejoin="round" stroke-linecap="round"/><g clip-path="url(#c57)"><path d="M970 472.5L1015 528.8M970 477.5L1015 533.8M970 482.5L1015 538.8M970 487.5L1015 543.8M970 492.5L1015 548.8M970 497.5L1015 553.8M970 502.5L1015 558.8M970 507.5L1015 563.8M970 512.5L1015 568.8M970 517.5L1015 573.8M970 522.5L1015 578.8M970 527.5L1015 583.8M970 532.5L1015 588.8M970 537.5L1015 593.8M970 542.5L1015 598.8M970 547.5L1015 603.8M970 552.5L1015 608.8M970 557.5L1015 613.8M970 562.5L1015 618.8M970 567.5L1015 623.8M970 572.5L1015 628.8M970 577.5L1015 633.8M970 582.5L1015 638.8M970 587.5L1015 643.8" stroke="#000" stroke-width="1.6" fill="none"/></g><polygon points="994.7,582 992.5,580.1 990,578.4 988.1,576.2 986.5,573.6 984,572 983,569.5 981.8,567.1 980.6,564.6 978.5,562.7 977.8,560 977.1,557 976.9,553.9 976.5,550.8 978.7,548.5 980.6,545.9 982,543 984.4,541.8 987.2,542 989.6,540.7 992.1,539.8 995.1,540.4 998.1,540.9 1000.9,542.1 1003.8,543 1005.5,545.3 1007.3,547.6 1009,550 1009.9,553 1010.3,556 1009.7,559 1010.1,562 1010,565 1009.5,567.7 1008.1,570.2 1007.7,573 1006.1,575 1004.1,576.7 1002.6,578.7 1000.6,580.4 998.6,582" stroke="#000" stroke-width="2.5" fill="none" stroke-linejoin="round" stroke-linecap="round"/><g clip-path="url(#c58)"><path d="M990 514.5L1035 570.8M990 519.5L1035 575.8M990 524.5L1035 580.8M990 529.5L1035 585.8M990 534.5L1035 590.8M990 539.5L1035 595.8M990 544.5L1035 600.8M990 549.5L1035 605.8M990 554.5L1035 610.8M990 559.5L1035 615.8M990 564.5L1035 620.8M990 569.5L1035 625.8M990 574.5L1035 630.8M990 579.5L1035 635.8M990 584.5L1035 640.8M990 589.5L1035 645.8M990 594.5L1035 650.8M990 599.5L1035 655.8M990 604.5L1035 660.8M990 609.5L1035 665.8M990 614.5L1035 670.8M990 619.5L1035 675.8M990 624.5L1035 680.8" stroke="#000" stroke-width="1.6" fill="none"/></g><polygon points="996,586 997,588.8 998.9,591.1 1000.5,593.5 1002,596 1001.9,599 1002,602 1002.3,605 1002.5,608 1004.5,610.6 1006.5,613.1 1008,616 1011.6,618.4 1014.2,617.8 1016.8,617.9 1019.4,618.3 1022,617.8 1024.6,618.4 1026.4,615.9 1027.7,613.1 1029.2,610.4 1031.1,608 1029.9,605.1 1029.1,602.2 1027.8,599.3 1027.2,596.3 1025.7,593.9 1023.6,592.2 1021.4,590.4 1020,588 1018.1,586.3 1017.4,583.7 1015.5,582 1012.7,582.5 1010,583.4 1007.1,583.5 1004.5,584.8 1001.5,584.4 998.7,584.9" stroke="#000" stroke-width="2.5" fill="none" stroke-linejoin="round" stroke-linecap="round"/><path clip-path="url(#c59)" d="M1015.7 563.7l0 3M1015.7 567.9l0 4.6M1019.3 557l0 6.4M1021.1 557.3l0 5.6M1022.9 553l0 3.7M1024.7 561.4l0 5.9M1028.3 555.6l0 2.6" stroke="#000" stroke-width="1.2" fill="none"/><polygon points="1013,573 1014,570.5 1014.1,567.8 1014.7,565.2 1015.2,562.6 1016,560 1018.2,557.2 1020,554 1022.5,553 1025,552 1027.6,553.7 1029.8,556 1028.5,558.4 1027.5,560.8 1027.4,563.7 1026,566 1024,568 1022.2,570.2 1020,572 1016.5,572.4" stroke="#000" stroke-width="2.8" fill="none" stroke-linejoin="round" stroke-linecap="round"/><path clip-path="url(#c60)" d="M1029.4 559l0 3.5M1033 549.9l0 5.6M1033 557.7l0 2.8M1033 563.6l0 1.7M1034.8 545l0 5.4M1036.6 547l0 5.2M1036.6 562.4l0 2.2M1038.4 547.4l0 3.6M1043.8 552l0 2.6M1043.8 557.8l0 3.7M1045.6 557.8l0 5.3M1047.4 556.1l0 2" stroke="#000" stroke-width="1.2" fill="none"/><polygon points="1028.5,566 1029.1,563.2 1029.2,560.4 1029.9,557.7 1029.4,554.8 1030,552 1031.5,549.8 1032.6,547.3 1034,545 1037,544.7 1040,544.3 1042.2,547 1044,550 1046,547 1046.9,549.9 1047.3,553 1048,556 1046.9,559.5 1046,563 1043.4,563 1041,563.8 1038.5,564.3 1036,564.6 1033.5,565 1031,565.7" stroke="#000" stroke-width="2.8" fill="none" stroke-linejoin="round" stroke-linecap="round"/><path clip-path="url(#c61)" d="M1051.5 561.9l0 0.2M1055.1 548.2l0 6.4M1058.7 546.1l0 3.9M1058.7 562.4l0 0.3M1060.5 546.8l0 6.9M1064.1 556.7l0 4.5M1067.7 553.4l0 6.1M1069.5 562l0 1.6M1071.3 554.8l0 4.4M1073.1 558.6l0 0.9" stroke="#000" stroke-width="1.2" fill="none"/><polygon points="1050.6,562 1051.2,559 1051.2,556 1051.6,553 1052,550 1053.8,548.2 1055.2,546.1 1057,544.3 1060,545.2 1063,546 1064.8,548.9 1066,552 1070,550 1072.2,552.8 1074,556 1073.3,558.6 1072.7,561.2 1072,563.8 1069.5,563.2 1067,563.8 1064.5,562.8 1062,563 1059.1,563 1056.3,562.7 1053.4,562.6" stroke="#000" stroke-width="2.8" fill="none" stroke-linejoin="round" stroke-linecap="round"/><path clip-path="url(#c62)" d="M1016.3 579l0 2.7M1017.9 581.1l0 4.1M1019.5 577.3l0 3.2M1019.5 582l0 3.5M1021.1 577.1l0 2.7M1021.1 582.1l0 2.4M1022.7 578.6l0 3.3M1022.7 585.8l0 0.7M1024.3 576.9l0 6.4M1024.3 585.9l0 1.6M1025.9 577.9l0 5.5M1025.9 584.6l0 3.3M1027.5 576.2l0 2M1027.5 581.9l0 6.8M1029.1 575.7l0 7M1030.7 575.1l0 3.5M1032.3 576l0 2.2M1032.3 580.2l0 6.1M1033.9 572l0 3.3M1033.9 576.7l0 5.7M1033.9 583.9l0 2.7M1035.5 573.6l0 6.4M1035.5 583.2l0 3.3M1037.1 572l0 6.6M1037.1 582l0 5.2M1037.1 588.8l0 0.2M1038.7 570.9l0 3.9M1038.7 577l0 6.6M1038.7 585.5l0 3.7M1040.3 570.9l0 2.3M1040.3 576.8l0 6.5M1040.3 585.4l0 4.8M1041.9 570.9l0 4.5M1041.9 577.7l0 6.2M1041.9 585.9l0 1M1043.5 569.3l0 4.4M1043.5 576.6l0 6.4M1045.1 569.8l0 5.3M1045.1 576.9l0 2.3" stroke="#000" stroke-width="1.2" fill="none"/><polygon points="1015.5,578 1017.9,577.2 1020.3,576.3 1022.7,575.3 1025.1,574.4 1027.7,574.3 1030,573 1032.2,571.7 1034.7,570.9 1037.2,570.7 1039.5,569.5 1041.8,568.4 1044.4,568.1 1046.7,567 1045.9,569.5 1046.3,572.2 1045.5,574.8 1045.4,577.4 1045,580 1043.3,582.5 1042.4,585.5 1040.9,588.1 1040,591 1037.8,589.2 1035.1,588 1033,586 1030.5,588 1028,590 1025.1,587.8 1022,586 1019.4,585.8 1017,585 1015.8,581.6" stroke="#000" stroke-width="2.8" fill="none" stroke-linejoin="round" stroke-linecap="round"/><path clip-path="url(#c63)" d="M1050.7 569.2l0 0.2M1052.5 569.1l0 2.4M1054.3 567.4l0 5.9M1056.1 565.1l0 6.8M1057.9 564.8l0 2.5M1057.9 569.6l0 3M1059.7 567l0 3.4M1061.5 565.7l0 4.3M1063.3 568.4l0 6M1066.9 565.6l0 5.1" stroke="#000" stroke-width="1.2" fill="none"/><polygon points="1048,566 1050.9,565.1 1054.1,565.2 1057,564.4 1060,563.8 1062.6,564.1 1064.9,565.3 1067.5,565.4 1070,566 1068.8,569.5 1068,573 1064,575.5 1062.4,572.5 1060,570 1058.1,572.6 1056,575 1054,573 1052,571 1050,568.5" stroke="#000" stroke-width="2.8" fill="none" stroke-linejoin="round" stroke-linecap="round"/><path transform="translate(589 468.6) scale(0.01859 -0.01660)" d="M789 70 902 45 894 0H609L638 156Q469 -21 329 -21Q208 -21 134.5 68.0Q61 157 61 313Q61 488 137.5 640.5Q214 793 342.0 878.5Q470 964 620 964Q741 964 848 922L893 956H947ZM760 837Q721 864 687.0 874.5Q653 885 603 885Q503 885 419.5 809.5Q336 734 288.0 606.0Q240 478 240 339Q240 232 284.0 168.0Q328 104 404 104Q517 104 651 243Z" fill="#000" stroke="#000" stroke-width="42.16" stroke-linejoin="round"/><path transform="translate(242.5 719.2) scale(0.01562 -0.01562)" d="M305 1352 172 1376 180 1421H480L406 980Q389 866 367 787Q447 869 531.5 917.0Q616 965 687 965Q812 965 887.0 875.5Q962 786 962 631Q962 459 887.5 306.5Q813 154 682.0 67.0Q551 -20 396 -20Q308 -20 223.5 2.5Q139 25 76 64ZM248 107Q306 59 409 59Q511 59 597.5 134.5Q684 210 733.5 337.5Q783 465 783 605Q783 717 736.5 778.5Q690 840 612 840Q553 840 484.5 801.0Q416 762 354 701Z" fill="#000" stroke="#000" stroke-width="57.60" stroke-linejoin="round"/><path transform="translate(883.5 718.2) scale(0.01611 -0.01611)" d="M774 142Q693 67 592.0 23.5Q491 -20 400 -20Q239 -20 151.0 73.0Q63 166 63 330Q63 504 133.0 647.5Q203 791 332.5 878.0Q462 965 604 965Q675 965 755.0 950.0Q835 935 887 913L842 651H787L771 825Q708 888 603 888Q507 888 423.5 817.0Q340 746 290.0 619.0Q240 492 240 340Q240 84 446 84Q589 84 744 184Z" fill="#000" stroke="#000" stroke-width="55.85" stroke-linejoin="round"/></svg></body></html>
